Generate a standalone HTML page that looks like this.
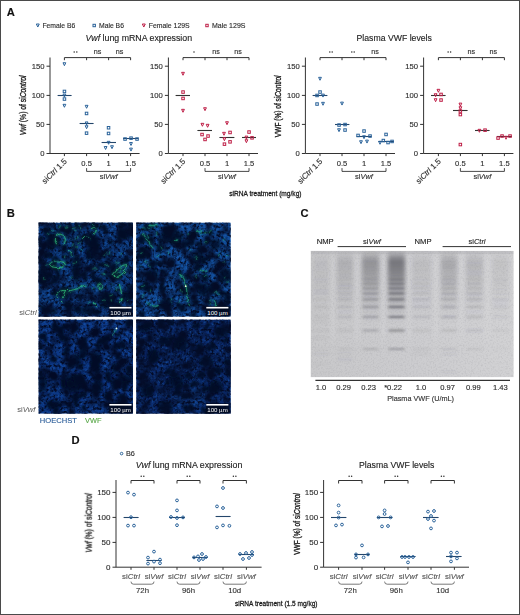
<!DOCTYPE html>
<html><head><meta charset="utf-8"><title>Figure</title>
<style>
html,body{margin:0;padding:0;background:#fff;}
svg{display:block;}
text{font-family:"Liberation Sans",sans-serif;}
</style></head><body>
<svg width="520" height="615" viewBox="0 0 520 615">
<rect x="0" y="0" width="520" height="615" fill="#fff"/>
<g opacity="0.999">
<text x="6.8" y="16.2" font-size="11.2" text-anchor="start" fill="#111" stroke="#111" stroke-width="0.13" font-weight="bold">A</text>
<path d="M36.35 24.00H39.25L37.80 27.04Z" fill="none" stroke="#2a6299" stroke-width="1" stroke-linejoin="miter"/>
<text x="42.4" y="27.7" font-size="6.8" text-anchor="start" fill="#2e2e2e" stroke="#2e2e2e" stroke-width="0.13" >Female B6</text>
<rect x="93.0" y="24.3" width="2.4" height="2.4" fill="none" stroke="#2a6299" stroke-width="1"/>
<text x="99.0" y="27.7" font-size="6.8" text-anchor="start" fill="#2e2e2e" stroke="#2e2e2e" stroke-width="0.13" >Male B6</text>
<path d="M142.35 24.00H145.25L143.80 27.04Z" fill="none" stroke="#be1e46" stroke-width="1" stroke-linejoin="miter"/>
<text x="148.7" y="27.7" font-size="6.9" text-anchor="start" fill="#2e2e2e" stroke="#2e2e2e" stroke-width="0.13" >Female 129S</text>
<rect x="205.8" y="24.3" width="2.4" height="2.4" fill="none" stroke="#be1e46" stroke-width="1"/>
<text x="212.0" y="27.7" font-size="7.0" text-anchor="start" fill="#2e2e2e" stroke="#2e2e2e" stroke-width="0.13" >Male 129S</text>
<text x="138.8" y="41.3" font-size="8.8" text-anchor="middle" fill="#222" stroke="#222" stroke-width="0.13" ><tspan font-style="italic">Vwf</tspan> lung mRNA expression</text>
<text x="394.2" y="41.3" font-size="8.7" text-anchor="middle" fill="#222" stroke="#222" stroke-width="0.13" >Plasma VWF levels</text>
<text transform="translate(25.8,105.4) rotate(-90) scale(0.72,1)" font-size="9.4" text-anchor="middle" fill="#1a1a1a" stroke="#1a1a1a" stroke-width="0.34"><tspan font-style="italic">Vwf</tspan> (%) of si<tspan font-style="italic">Control</tspan></text>
<text transform="translate(281,106.3) rotate(-90) scale(0.7,1)" font-size="9.4" text-anchor="middle" fill="#1a1a1a" stroke="#1a1a1a" stroke-width="0.34">VWF (%) of si<tspan font-style="italic">Control</tspan></text>
<text transform="translate(265.4,195.6) scale(0.826,1)" font-size="8" text-anchor="middle" fill="#1a1a1a" stroke="#1a1a1a" stroke-width="0.3">siRNA treatment (mg/kg)</text>
<path d="M50 57.5V153.5H139.6" stroke="#333333" stroke-width="1" fill="none"/>
<path d="M46.5 66.2L50.0 66.2" stroke="#333333" stroke-width="1" fill="none"/>
<text x="44.5" y="68.9" font-size="7.7" text-anchor="end" fill="#2e2e2e" stroke="#2e2e2e" stroke-width="0.13" >150</text>
<path d="M46.5 95.4L50.0 95.4" stroke="#333333" stroke-width="1" fill="none"/>
<text x="44.5" y="98.1" font-size="7.7" text-anchor="end" fill="#2e2e2e" stroke="#2e2e2e" stroke-width="0.13" >100</text>
<path d="M46.5 124.4L50.0 124.4" stroke="#333333" stroke-width="1" fill="none"/>
<text x="44.5" y="127.1" font-size="7.7" text-anchor="end" fill="#2e2e2e" stroke="#2e2e2e" stroke-width="0.13" >50</text>
<path d="M46.5 153.5L50.0 153.5" stroke="#333333" stroke-width="1" fill="none"/>
<text x="44.5" y="156.2" font-size="7.7" text-anchor="end" fill="#2e2e2e" stroke="#2e2e2e" stroke-width="0.13" >0</text>
<path d="M64.4 153.5L64.4 156.1" stroke="#333333" stroke-width="1" fill="none"/>
<path d="M86.6 153.5L86.6 156.1" stroke="#333333" stroke-width="1" fill="none"/>
<path d="M108.6 153.5L108.6 156.1" stroke="#333333" stroke-width="1" fill="none"/>
<path d="M130.6 153.5L130.6 156.1" stroke="#333333" stroke-width="1" fill="none"/>
<path d="M64.4 60.2V57.6H130.6V60.2M86.6 57.6V60.2M108.6 57.6V60.2" stroke="#333333" stroke-width="1" fill="none"/>
<circle cx="74.2" cy="52.1" r="0.75" fill="#2a2a2a"/>
<circle cx="76.8" cy="52.1" r="0.75" fill="#2a2a2a"/>
<text x="97.6" y="54.3" font-size="7.2" text-anchor="middle" fill="#2e2e2e" stroke="#2e2e2e" stroke-width="0.13" >ns</text>
<text x="119.6" y="54.3" font-size="7.2" text-anchor="middle" fill="#2e2e2e" stroke="#2e2e2e" stroke-width="0.13" >ns</text>
<path d="M57.6 95.5L71.6 95.5" stroke="#24466b" stroke-width="1.1" fill="none"/>
<path d="M63.00 62.74H65.80L64.40 65.68Z" fill="none" stroke="#2a6299" stroke-width="1" stroke-linejoin="miter"/>
<rect x="63.2" y="90.2" width="2.5" height="2.5" fill="none" stroke="#2a6299" stroke-width="1"/>
<path d="M63.00 94.14H65.80L64.40 97.08Z" fill="none" stroke="#2a6299" stroke-width="1" stroke-linejoin="miter"/>
<rect x="63.2" y="97.8" width="2.5" height="2.5" fill="none" stroke="#2a6299" stroke-width="1"/>
<path d="M63.00 104.34H65.80L64.40 107.28Z" fill="none" stroke="#2a6299" stroke-width="1" stroke-linejoin="miter"/>
<path d="M79.6 123.5L93.6 123.5" stroke="#24466b" stroke-width="1.1" fill="none"/>
<path d="M85.20 105.34H88.00L86.60 108.28Z" fill="none" stroke="#2a6299" stroke-width="1" stroke-linejoin="miter"/>
<rect x="85.3" y="112.2" width="2.5" height="2.5" fill="none" stroke="#2a6299" stroke-width="1"/>
<path d="M85.20 121.94H88.00L86.60 124.88Z" fill="none" stroke="#2a6299" stroke-width="1" stroke-linejoin="miter"/>
<path d="M85.20 125.74H88.00L86.60 128.68Z" fill="none" stroke="#2a6299" stroke-width="1" stroke-linejoin="miter"/>
<rect x="85.3" y="131.9" width="2.5" height="2.5" fill="none" stroke="#2a6299" stroke-width="1"/>
<path d="M101.6 142.5L116.0 142.5" stroke="#24466b" stroke-width="1.1" fill="none"/>
<rect x="107.3" y="126.5" width="2.5" height="2.5" fill="none" stroke="#2a6299" stroke-width="1"/>
<rect x="107.3" y="132.2" width="2.5" height="2.5" fill="none" stroke="#2a6299" stroke-width="1"/>
<path d="M107.20 141.34H110.00L108.60 144.28Z" fill="none" stroke="#2a6299" stroke-width="1" stroke-linejoin="miter"/>
<path d="M104.20 146.54H107.00L105.60 149.48Z" fill="none" stroke="#2a6299" stroke-width="1" stroke-linejoin="miter"/>
<path d="M110.60 145.74H113.40L112.00 148.68Z" fill="none" stroke="#2a6299" stroke-width="1" stroke-linejoin="miter"/>
<path d="M123.0 138.5L138.4 138.5" stroke="#24466b" stroke-width="1.1" fill="none"/>
<rect x="123.8" y="137.8" width="2.5" height="2.5" fill="none" stroke="#2a6299" stroke-width="1"/>
<rect x="129.8" y="136.9" width="2.5" height="2.5" fill="none" stroke="#2a6299" stroke-width="1"/>
<rect x="135.8" y="137.8" width="2.5" height="2.5" fill="none" stroke="#2a6299" stroke-width="1"/>
<path d="M129.60 142.54H132.40L131.00 145.48Z" fill="none" stroke="#2a6299" stroke-width="1" stroke-linejoin="miter"/>
<path d="M129.60 148.14H132.40L131.00 151.08Z" fill="none" stroke="#2a6299" stroke-width="1" stroke-linejoin="miter"/>
<text transform="translate(67.4,161.8) rotate(-45)" font-size="8" text-anchor="end" fill="#2e2e2e" stroke="#2e2e2e" stroke-width="0.13">si<tspan font-style="italic">Ctrl</tspan> 1.5</text>
<text x="86.6" y="166.1" font-size="7.6" text-anchor="middle" fill="#2e2e2e" stroke="#2e2e2e" stroke-width="0.13" >0.5</text>
<text x="108.6" y="166.1" font-size="7.6" text-anchor="middle" fill="#2e2e2e" stroke="#2e2e2e" stroke-width="0.13" >1</text>
<text x="130.6" y="166.1" font-size="7.6" text-anchor="middle" fill="#2e2e2e" stroke="#2e2e2e" stroke-width="0.13" >1.5</text>
<path d="M86.6 168.1V171.4H130.6V168.1" stroke="#333333" stroke-width="0.9" fill="none"/>
<text x="108.6" y="179.1" font-size="7.5" text-anchor="middle" fill="#2e2e2e" stroke="#2e2e2e" stroke-width="0.13" >si<tspan font-style="italic">Vwf</tspan></text>
<path d="M168.4 57.5V153.5H258" stroke="#333333" stroke-width="1" fill="none"/>
<path d="M164.9 66.2L168.4 66.2" stroke="#333333" stroke-width="1" fill="none"/>
<text x="162.9" y="68.9" font-size="7.7" text-anchor="end" fill="#2e2e2e" stroke="#2e2e2e" stroke-width="0.13" >150</text>
<path d="M164.9 95.4L168.4 95.4" stroke="#333333" stroke-width="1" fill="none"/>
<text x="162.9" y="98.1" font-size="7.7" text-anchor="end" fill="#2e2e2e" stroke="#2e2e2e" stroke-width="0.13" >100</text>
<path d="M164.9 124.4L168.4 124.4" stroke="#333333" stroke-width="1" fill="none"/>
<text x="162.9" y="127.1" font-size="7.7" text-anchor="end" fill="#2e2e2e" stroke="#2e2e2e" stroke-width="0.13" >50</text>
<path d="M164.9 153.5L168.4 153.5" stroke="#333333" stroke-width="1" fill="none"/>
<text x="162.9" y="156.2" font-size="7.7" text-anchor="end" fill="#2e2e2e" stroke="#2e2e2e" stroke-width="0.13" >0</text>
<path d="M183.0 153.5L183.0 156.1" stroke="#333333" stroke-width="1" fill="none"/>
<path d="M205.0 153.5L205.0 156.1" stroke="#333333" stroke-width="1" fill="none"/>
<path d="M227.0 153.5L227.0 156.1" stroke="#333333" stroke-width="1" fill="none"/>
<path d="M249.0 153.5L249.0 156.1" stroke="#333333" stroke-width="1" fill="none"/>
<path d="M183.0 60.2V57.6H249.0V60.2M205.0 57.6V60.2M227.0 57.6V60.2" stroke="#333333" stroke-width="1" fill="none"/>
<circle cx="194.0" cy="52.1" r="0.75" fill="#2a2a2a"/>
<text x="216.0" y="54.3" font-size="7.2" text-anchor="middle" fill="#2e2e2e" stroke="#2e2e2e" stroke-width="0.13" >ns</text>
<text x="238.0" y="54.3" font-size="7.2" text-anchor="middle" fill="#2e2e2e" stroke="#2e2e2e" stroke-width="0.13" >ns</text>
<path d="M175.6 95.5L190.0 95.5" stroke="#333" stroke-width="1.1" fill="none"/>
<path d="M181.60 72.34H184.40L183.00 75.28Z" fill="none" stroke="#be1e46" stroke-width="1" stroke-linejoin="miter"/>
<rect x="181.8" y="90.8" width="2.5" height="2.5" fill="none" stroke="#be1e46" stroke-width="1"/>
<rect x="181.8" y="97.2" width="2.5" height="2.5" fill="none" stroke="#be1e46" stroke-width="1"/>
<path d="M181.60 109.34H184.40L183.00 112.28Z" fill="none" stroke="#be1e46" stroke-width="1" stroke-linejoin="miter"/>
<path d="M197.4 130.5L212.0 130.5" stroke="#333" stroke-width="1.1" fill="none"/>
<path d="M203.60 107.74H206.40L205.00 110.68Z" fill="none" stroke="#be1e46" stroke-width="1" stroke-linejoin="miter"/>
<path d="M201.00 123.34H203.80L202.40 126.28Z" fill="none" stroke="#be1e46" stroke-width="1" stroke-linejoin="miter"/>
<path d="M206.20 124.34H209.00L207.60 127.28Z" fill="none" stroke="#be1e46" stroke-width="1" stroke-linejoin="miter"/>
<rect x="200.8" y="133.3" width="2.5" height="2.5" fill="none" stroke="#be1e46" stroke-width="1"/>
<rect x="206.8" y="134.8" width="2.5" height="2.5" fill="none" stroke="#be1e46" stroke-width="1"/>
<rect x="203.8" y="138.2" width="2.5" height="2.5" fill="none" stroke="#be1e46" stroke-width="1"/>
<path d="M219.4 137.5L234.4 137.5" stroke="#333" stroke-width="1.1" fill="none"/>
<path d="M225.60 121.74H228.40L227.00 124.68Z" fill="none" stroke="#be1e46" stroke-width="1" stroke-linejoin="miter"/>
<path d="M222.60 132.34H225.40L224.00 135.28Z" fill="none" stroke="#be1e46" stroke-width="1" stroke-linejoin="miter"/>
<rect x="228.8" y="131.2" width="2.5" height="2.5" fill="none" stroke="#be1e46" stroke-width="1"/>
<path d="M223.00 137.74H225.80L224.40 140.68Z" fill="none" stroke="#be1e46" stroke-width="1" stroke-linejoin="miter"/>
<rect x="228.8" y="140.6" width="2.5" height="2.5" fill="none" stroke="#be1e46" stroke-width="1"/>
<rect x="223.2" y="142.9" width="2.5" height="2.5" fill="none" stroke="#be1e46" stroke-width="1"/>
<path d="M242.0 137.5L256.0 137.5" stroke="#333" stroke-width="1.1" fill="none"/>
<rect x="247.8" y="130.8" width="2.5" height="2.5" fill="none" stroke="#be1e46" stroke-width="1"/>
<path d="M245.00 136.14H247.80L246.40 139.08Z" fill="none" stroke="#be1e46" stroke-width="1" stroke-linejoin="miter"/>
<rect x="250.8" y="136.6" width="2.5" height="2.5" fill="none" stroke="#be1e46" stroke-width="1"/>
<path d="M245.00 139.74H247.80L246.40 142.68Z" fill="none" stroke="#be1e46" stroke-width="1" stroke-linejoin="miter"/>
<text transform="translate(186.0,161.8) rotate(-45)" font-size="8" text-anchor="end" fill="#2e2e2e" stroke="#2e2e2e" stroke-width="0.13">si<tspan font-style="italic">Ctrl</tspan> 1.5</text>
<text x="205.0" y="166.1" font-size="7.6" text-anchor="middle" fill="#2e2e2e" stroke="#2e2e2e" stroke-width="0.13" >0.5</text>
<text x="227.0" y="166.1" font-size="7.6" text-anchor="middle" fill="#2e2e2e" stroke="#2e2e2e" stroke-width="0.13" >1</text>
<text x="249.0" y="166.1" font-size="7.6" text-anchor="middle" fill="#2e2e2e" stroke="#2e2e2e" stroke-width="0.13" >1.5</text>
<path d="M205.0 168.1V171.4H249.0V168.1" stroke="#333333" stroke-width="0.9" fill="none"/>
<text x="227.0" y="179.1" font-size="7.5" text-anchor="middle" fill="#2e2e2e" stroke="#2e2e2e" stroke-width="0.13" >si<tspan font-style="italic">Vwf</tspan></text>
<path d="M305.4 57.5V153.5H395" stroke="#333333" stroke-width="1" fill="none"/>
<path d="M301.9 66.2L305.4 66.2" stroke="#333333" stroke-width="1" fill="none"/>
<text x="299.9" y="68.9" font-size="7.7" text-anchor="end" fill="#2e2e2e" stroke="#2e2e2e" stroke-width="0.13" >150</text>
<path d="M301.9 95.4L305.4 95.4" stroke="#333333" stroke-width="1" fill="none"/>
<text x="299.9" y="98.1" font-size="7.7" text-anchor="end" fill="#2e2e2e" stroke="#2e2e2e" stroke-width="0.13" >100</text>
<path d="M301.9 124.4L305.4 124.4" stroke="#333333" stroke-width="1" fill="none"/>
<text x="299.9" y="127.1" font-size="7.7" text-anchor="end" fill="#2e2e2e" stroke="#2e2e2e" stroke-width="0.13" >50</text>
<path d="M301.9 153.5L305.4 153.5" stroke="#333333" stroke-width="1" fill="none"/>
<text x="299.9" y="156.2" font-size="7.7" text-anchor="end" fill="#2e2e2e" stroke="#2e2e2e" stroke-width="0.13" >0</text>
<path d="M320.0 153.5L320.0 156.1" stroke="#333333" stroke-width="1" fill="none"/>
<path d="M342.0 153.5L342.0 156.1" stroke="#333333" stroke-width="1" fill="none"/>
<path d="M364.0 153.5L364.0 156.1" stroke="#333333" stroke-width="1" fill="none"/>
<path d="M386.0 153.5L386.0 156.1" stroke="#333333" stroke-width="1" fill="none"/>
<path d="M320.0 60.2V57.6H386.0V60.2M342.0 57.6V60.2M364.0 57.6V60.2" stroke="#333333" stroke-width="1" fill="none"/>
<circle cx="329.8" cy="52.1" r="0.75" fill="#2a2a2a"/>
<circle cx="332.2" cy="52.1" r="0.75" fill="#2a2a2a"/>
<circle cx="351.8" cy="52.1" r="0.75" fill="#2a2a2a"/>
<circle cx="354.2" cy="52.1" r="0.75" fill="#2a2a2a"/>
<text x="375.0" y="54.3" font-size="7.2" text-anchor="middle" fill="#2e2e2e" stroke="#2e2e2e" stroke-width="0.13" >ns</text>
<path d="M312.6 95.5L327.4 95.5" stroke="#24466b" stroke-width="1.1" fill="none"/>
<path d="M318.60 77.34H321.40L320.00 80.28Z" fill="none" stroke="#2a6299" stroke-width="1" stroke-linejoin="miter"/>
<rect x="318.8" y="90.8" width="2.5" height="2.5" fill="none" stroke="#2a6299" stroke-width="1"/>
<rect x="315.8" y="94.2" width="2.5" height="2.5" fill="none" stroke="#2a6299" stroke-width="1"/>
<path d="M321.60 94.14H324.40L323.00 97.08Z" fill="none" stroke="#2a6299" stroke-width="1" stroke-linejoin="miter"/>
<rect x="315.8" y="102.8" width="2.5" height="2.5" fill="none" stroke="#2a6299" stroke-width="1"/>
<path d="M321.60 102.34H324.40L323.00 105.28Z" fill="none" stroke="#2a6299" stroke-width="1" stroke-linejoin="miter"/>
<path d="M335.0 124.5L349.4 124.5" stroke="#24466b" stroke-width="1.1" fill="none"/>
<path d="M340.60 102.14H343.40L342.00 105.08Z" fill="none" stroke="#2a6299" stroke-width="1" stroke-linejoin="miter"/>
<rect x="337.8" y="123.8" width="2.5" height="2.5" fill="none" stroke="#2a6299" stroke-width="1"/>
<rect x="343.8" y="123.3" width="2.5" height="2.5" fill="none" stroke="#2a6299" stroke-width="1"/>
<path d="M337.60 128.74H340.40L339.00 131.68Z" fill="none" stroke="#2a6299" stroke-width="1" stroke-linejoin="miter"/>
<rect x="343.8" y="128.8" width="2.5" height="2.5" fill="none" stroke="#2a6299" stroke-width="1"/>
<path d="M356.6 136.5L371.6 136.5" stroke="#24466b" stroke-width="1.1" fill="none"/>
<rect x="362.8" y="129.8" width="2.5" height="2.5" fill="none" stroke="#2a6299" stroke-width="1"/>
<rect x="356.8" y="134.2" width="2.5" height="2.5" fill="none" stroke="#2a6299" stroke-width="1"/>
<path d="M362.60 135.74H365.40L364.00 138.68Z" fill="none" stroke="#2a6299" stroke-width="1" stroke-linejoin="miter"/>
<rect x="368.8" y="134.8" width="2.5" height="2.5" fill="none" stroke="#2a6299" stroke-width="1"/>
<path d="M359.60 140.74H362.40L361.00 143.68Z" fill="none" stroke="#2a6299" stroke-width="1" stroke-linejoin="miter"/>
<path d="M365.60 140.14H368.40L367.00 143.08Z" fill="none" stroke="#2a6299" stroke-width="1" stroke-linejoin="miter"/>
<path d="M378.4 141.5L394.0 141.5" stroke="#24466b" stroke-width="1.1" fill="none"/>
<rect x="384.8" y="133.2" width="2.5" height="2.5" fill="none" stroke="#2a6299" stroke-width="1"/>
<path d="M378.60 141.34H381.40L380.00 144.28Z" fill="none" stroke="#2a6299" stroke-width="1" stroke-linejoin="miter"/>
<rect x="382.1" y="139.3" width="2.5" height="2.5" fill="none" stroke="#2a6299" stroke-width="1"/>
<rect x="386.8" y="141.3" width="2.5" height="2.5" fill="none" stroke="#2a6299" stroke-width="1"/>
<rect x="390.8" y="140.2" width="2.5" height="2.5" fill="none" stroke="#2a6299" stroke-width="1"/>
<text transform="translate(323.0,161.8) rotate(-45)" font-size="8" text-anchor="end" fill="#2e2e2e" stroke="#2e2e2e" stroke-width="0.13">si<tspan font-style="italic">Ctrl</tspan> 1.5</text>
<text x="342.0" y="166.1" font-size="7.6" text-anchor="middle" fill="#2e2e2e" stroke="#2e2e2e" stroke-width="0.13" >0.5</text>
<text x="364.0" y="166.1" font-size="7.6" text-anchor="middle" fill="#2e2e2e" stroke="#2e2e2e" stroke-width="0.13" >1</text>
<text x="386.0" y="166.1" font-size="7.6" text-anchor="middle" fill="#2e2e2e" stroke="#2e2e2e" stroke-width="0.13" >1.5</text>
<path d="M342.0 168.1V171.4H386.0V168.1" stroke="#333333" stroke-width="0.9" fill="none"/>
<text x="364.0" y="179.1" font-size="7.5" text-anchor="middle" fill="#2e2e2e" stroke="#2e2e2e" stroke-width="0.13" >si<tspan font-style="italic">Vwf</tspan></text>
<path d="M423.6 57.5V153.5H513.4" stroke="#333333" stroke-width="1" fill="none"/>
<path d="M420.1 66.2L423.6 66.2" stroke="#333333" stroke-width="1" fill="none"/>
<text x="418.1" y="68.9" font-size="7.7" text-anchor="end" fill="#2e2e2e" stroke="#2e2e2e" stroke-width="0.13" >150</text>
<path d="M420.1 95.4L423.6 95.4" stroke="#333333" stroke-width="1" fill="none"/>
<text x="418.1" y="98.1" font-size="7.7" text-anchor="end" fill="#2e2e2e" stroke="#2e2e2e" stroke-width="0.13" >100</text>
<path d="M420.1 124.4L423.6 124.4" stroke="#333333" stroke-width="1" fill="none"/>
<text x="418.1" y="127.1" font-size="7.7" text-anchor="end" fill="#2e2e2e" stroke="#2e2e2e" stroke-width="0.13" >50</text>
<path d="M420.1 153.5L423.6 153.5" stroke="#333333" stroke-width="1" fill="none"/>
<text x="418.1" y="156.2" font-size="7.7" text-anchor="end" fill="#2e2e2e" stroke="#2e2e2e" stroke-width="0.13" >0</text>
<path d="M438.4 153.5L438.4 156.1" stroke="#333333" stroke-width="1" fill="none"/>
<path d="M460.4 153.5L460.4 156.1" stroke="#333333" stroke-width="1" fill="none"/>
<path d="M482.4 153.5L482.4 156.1" stroke="#333333" stroke-width="1" fill="none"/>
<path d="M504.4 153.5L504.4 156.1" stroke="#333333" stroke-width="1" fill="none"/>
<path d="M438.4 60.2V57.6H504.4V60.2M460.4 57.6V60.2M482.4 57.6V60.2" stroke="#333333" stroke-width="1" fill="none"/>
<circle cx="448.1" cy="52.1" r="0.75" fill="#2a2a2a"/>
<circle cx="450.6" cy="52.1" r="0.75" fill="#2a2a2a"/>
<text x="471.4" y="54.3" font-size="7.2" text-anchor="middle" fill="#2e2e2e" stroke="#2e2e2e" stroke-width="0.13" >ns</text>
<text x="493.4" y="54.3" font-size="7.2" text-anchor="middle" fill="#2e2e2e" stroke="#2e2e2e" stroke-width="0.13" >ns</text>
<path d="M431.0 95.5L445.6 95.5" stroke="#333" stroke-width="1.1" fill="none"/>
<path d="M437.00 89.34H439.80L438.40 92.28Z" fill="none" stroke="#be1e46" stroke-width="1" stroke-linejoin="miter"/>
<path d="M434.20 93.74H437.00L435.60 96.68Z" fill="none" stroke="#be1e46" stroke-width="1" stroke-linejoin="miter"/>
<rect x="439.8" y="93.2" width="2.5" height="2.5" fill="none" stroke="#be1e46" stroke-width="1"/>
<path d="M434.20 98.74H437.00L435.60 101.68Z" fill="none" stroke="#be1e46" stroke-width="1" stroke-linejoin="miter"/>
<rect x="439.8" y="98.8" width="2.5" height="2.5" fill="none" stroke="#be1e46" stroke-width="1"/>
<path d="M453.0 110.5L467.6 110.5" stroke="#333" stroke-width="1.1" fill="none"/>
<path d="M459.00 103.14H461.80L460.40 106.08Z" fill="none" stroke="#be1e46" stroke-width="1" stroke-linejoin="miter"/>
<path d="M459.00 106.74H461.80L460.40 109.68Z" fill="none" stroke="#be1e46" stroke-width="1" stroke-linejoin="miter"/>
<rect x="459.1" y="109.8" width="2.5" height="2.5" fill="none" stroke="#be1e46" stroke-width="1"/>
<rect x="459.1" y="113.3" width="2.5" height="2.5" fill="none" stroke="#be1e46" stroke-width="1"/>
<rect x="459.1" y="143.3" width="2.5" height="2.5" fill="none" stroke="#be1e46" stroke-width="1"/>
<path d="M475.0 130.5L489.6 130.5" stroke="#333" stroke-width="1.1" fill="none"/>
<path d="M478.00 129.34H480.80L479.40 132.28Z" fill="none" stroke="#be1e46" stroke-width="1" stroke-linejoin="miter"/>
<rect x="483.8" y="128.9" width="2.5" height="2.5" fill="none" stroke="#be1e46" stroke-width="1"/>
<path d="M497.0 136.5L512.0 136.5" stroke="#333" stroke-width="1.1" fill="none"/>
<rect x="496.8" y="136.8" width="2.5" height="2.5" fill="none" stroke="#be1e46" stroke-width="1"/>
<rect x="500.8" y="134.8" width="2.5" height="2.5" fill="none" stroke="#be1e46" stroke-width="1"/>
<path d="M504.60 136.34H507.40L506.00 139.28Z" fill="none" stroke="#be1e46" stroke-width="1" stroke-linejoin="miter"/>
<rect x="508.8" y="134.8" width="2.5" height="2.5" fill="none" stroke="#be1e46" stroke-width="1"/>
<text transform="translate(441.4,161.8) rotate(-45)" font-size="8" text-anchor="end" fill="#2e2e2e" stroke="#2e2e2e" stroke-width="0.13">si<tspan font-style="italic">Ctrl</tspan> 1.5</text>
<text x="460.4" y="166.1" font-size="7.6" text-anchor="middle" fill="#2e2e2e" stroke="#2e2e2e" stroke-width="0.13" >0.5</text>
<text x="482.4" y="166.1" font-size="7.6" text-anchor="middle" fill="#2e2e2e" stroke="#2e2e2e" stroke-width="0.13" >1</text>
<text x="504.4" y="166.1" font-size="7.6" text-anchor="middle" fill="#2e2e2e" stroke="#2e2e2e" stroke-width="0.13" >1.5</text>
<path d="M460.4 168.1V171.4H504.4V168.1" stroke="#333333" stroke-width="0.9" fill="none"/>
<text x="482.4" y="179.1" font-size="7.5" text-anchor="middle" fill="#2e2e2e" stroke="#2e2e2e" stroke-width="0.13" >si<tspan font-style="italic">Vwf</tspan></text>
<text x="6.8" y="216.9" font-size="11.2" text-anchor="start" fill="#111" stroke="#111" stroke-width="0.13" font-weight="bold">B</text>
<defs>
<filter id="mot1" x="0" y="0" width="100%" height="100%" color-interpolation-filters="sRGB">
 <feTurbulence type="fractalNoise" baseFrequency="0.075" numOctaves="2" seed="7"/>
 <feColorMatrix type="matrix" values="0 0 0 0 0.012  0 0 0 0 0.045  0 0 0 0 0.15  3.4 0 0 0 -1.45"/>
</filter>
<filter id="mot2" x="0" y="0" width="100%" height="100%" color-interpolation-filters="sRGB">
 <feTurbulence type="fractalNoise" baseFrequency="0.08" numOctaves="2" seed="19"/>
 <feColorMatrix type="matrix" values="0 0 0 0 0.012  0 0 0 0 0.045  0 0 0 0 0.15  3.4 0 0 0 -1.45"/>
</filter>
<filter id="fine" x="0" y="0" width="100%" height="100%" color-interpolation-filters="sRGB">
 <feTurbulence type="fractalNoise" baseFrequency="0.33" numOctaves="2" seed="5"/>
 <feColorMatrix type="matrix" values="0 0 0 0 0.012  0 0 0 0 0.045  0 0 0 0 0.15  3.2 0 0 0 -1.3"/>
</filter>
<filter id="spk" x="0" y="0" width="100%" height="100%" color-interpolation-filters="sRGB">
 <feTurbulence type="fractalNoise" baseFrequency="0.5" numOctaves="1" seed="3"/>
 <feColorMatrix type="matrix" values="0 0 0 0 0.11  0 0 0 0 0.38  0 0 0 0 0.74  0 3.0 0 0 -1.6"/>
</filter>
<filter id="b25" x="-30%" y="-30%" width="160%" height="160%"><feGaussianBlur stdDeviation="2.2"/></filter>
<filter id="b12" x="-30%" y="-30%" width="160%" height="160%"><feGaussianBlur stdDeviation="0.8"/></filter>
<filter id="b05" x="-10%" y="-10%" width="120%" height="120%" color-interpolation-filters="sRGB"><feTurbulence type="fractalNoise" baseFrequency="0.22" numOctaves="2" seed="11" result="t"/><feDisplacementMap in="SourceGraphic" in2="t" scale="3.2" xChannelSelector="R" yChannelSelector="G" result="d"/><feGaussianBlur in="d" stdDeviation="0.55" result="g1"/><feGaussianBlur in="d" stdDeviation="1.6" result="g2"/><feMerge><feMergeNode in="g2"/><feMergeNode in="g1"/></feMerge></filter>
<filter id="b6" x="-30%" y="-30%" width="160%" height="160%"><feGaussianBlur stdDeviation="7"/></filter>
</defs>
<svg x="38.5" y="222.5" width="94.5" height="94.2" viewBox="0 0 94.5 94.2" overflow="hidden">
<rect width="94.5" height="94.2" fill="#0c3c80"/>
<rect width="94.5" height="94.2" filter="url(#fine)"/>
<rect width="94.5" height="94.2" filter="url(#spk)"/>
<g filter="url(#b25)" fill="#030c28" opacity="0.9">
<ellipse cx="13" cy="19" rx="7" ry="9"/>
<ellipse cx="55" cy="26" rx="7" ry="12"/>
<ellipse cx="38" cy="46" rx="5" ry="15"/>
<ellipse cx="5" cy="52" rx="6" ry="10"/>
<ellipse cx="69" cy="78" rx="9" ry="9"/>
<ellipse cx="88" cy="11" rx="8" ry="6"/>
<ellipse cx="92" cy="69" rx="5" ry="9"/>
<ellipse cx="25" cy="72" rx="6" ry="5"/>
<ellipse cx="75" cy="45" rx="5" ry="6"/>
<ellipse cx="30" cy="8" rx="6" ry="4"/>
<ellipse cx="50" cy="88" rx="8" ry="5"/>
<ellipse cx="12" cy="88" rx="8" ry="4"/>
</g>
<g filter="url(#b12)" fill="#030c28" opacity="0.92">
<ellipse cx="14.5" cy="42.9" rx="4.6" ry="3.6" transform="rotate(132 14.5 42.9)"/>
<ellipse cx="41.1" cy="74.8" rx="3.8" ry="2.0" transform="rotate(82 41.1 74.8)"/>
<ellipse cx="5.4" cy="87.0" rx="5.2" ry="2.7" transform="rotate(56 5.4 87.0)"/>
<ellipse cx="72.0" cy="19.8" rx="2.6" ry="2.3" transform="rotate(62 72.0 19.8)"/>
<ellipse cx="58.9" cy="89.8" rx="2.7" ry="4.3" transform="rotate(100 58.9 89.8)"/>
<ellipse cx="84.4" cy="76.4" rx="2.5" ry="3.5" transform="rotate(22 84.4 76.4)"/>
<ellipse cx="1.5" cy="37.5" rx="4.6" ry="3.3" transform="rotate(35 1.5 37.5)"/>
<ellipse cx="78.8" cy="85.3" rx="2.8" ry="3.0" transform="rotate(115 78.8 85.3)"/>
<ellipse cx="84.5" cy="12.7" rx="3.9" ry="4.3" transform="rotate(110 84.5 12.7)"/>
<ellipse cx="67.4" cy="72.5" rx="3.7" ry="2.6" transform="rotate(106 67.4 72.5)"/>
<ellipse cx="49.9" cy="32.6" rx="4.9" ry="2.7" transform="rotate(87 49.9 32.6)"/>
<ellipse cx="71.4" cy="76.0" rx="5.0" ry="3.5" transform="rotate(45 71.4 76.0)"/>
<ellipse cx="79.4" cy="84.8" rx="4.4" ry="3.8" transform="rotate(92 79.4 84.8)"/>
<ellipse cx="46.6" cy="54.7" rx="2.5" ry="3.6" transform="rotate(155 46.6 54.7)"/>
<ellipse cx="16.2" cy="70.5" rx="4.4" ry="2.1" transform="rotate(9 16.2 70.5)"/>
<ellipse cx="56.1" cy="21.2" rx="3.1" ry="3.4" transform="rotate(117 56.1 21.2)"/>
<ellipse cx="70.3" cy="53.4" rx="3.1" ry="1.8" transform="rotate(21 70.3 53.4)"/>
<ellipse cx="18.8" cy="49.4" rx="4.4" ry="2.3" transform="rotate(70 18.8 49.4)"/>
<ellipse cx="87.6" cy="37.9" rx="4.4" ry="3.4" transform="rotate(119 87.6 37.9)"/>
<ellipse cx="45.1" cy="51.3" rx="4.4" ry="2.2" transform="rotate(144 45.1 51.3)"/>
<ellipse cx="81.7" cy="5.3" rx="2.7" ry="2.4" transform="rotate(17 81.7 5.3)"/>
<ellipse cx="13.9" cy="60.1" rx="2.4" ry="2.0" transform="rotate(170 13.9 60.1)"/>
<ellipse cx="38.2" cy="50.8" rx="3.6" ry="2.7" transform="rotate(82 38.2 50.8)"/>
<ellipse cx="19.0" cy="54.5" rx="2.9" ry="2.2" transform="rotate(38 19.0 54.5)"/>
<ellipse cx="39.2" cy="86.8" rx="4.0" ry="4.3" transform="rotate(72 39.2 86.8)"/>
<ellipse cx="25.1" cy="66.5" rx="2.6" ry="4.4" transform="rotate(70 25.1 66.5)"/>
<ellipse cx="26.1" cy="26.0" rx="3.0" ry="4.2" transform="rotate(179 26.1 26.0)"/>
<ellipse cx="52.7" cy="22.4" rx="2.0" ry="2.0" transform="rotate(54 52.7 22.4)"/>
<ellipse cx="60.5" cy="58.8" rx="4.9" ry="3.9" transform="rotate(63 60.5 58.8)"/>
<ellipse cx="63.3" cy="42.0" rx="4.5" ry="2.3" transform="rotate(176 63.3 42.0)"/>
<ellipse cx="3.1" cy="57.9" rx="3.2" ry="3.9" transform="rotate(26 3.1 57.9)"/>
<ellipse cx="83.4" cy="1.3" rx="4.5" ry="3.6" transform="rotate(91 83.4 1.3)"/>
<ellipse cx="17.1" cy="36.2" rx="3.5" ry="2.4" transform="rotate(29 17.1 36.2)"/>
<ellipse cx="78.9" cy="51.7" rx="2.9" ry="3.4" transform="rotate(114 78.9 51.7)"/>
<ellipse cx="13.6" cy="54.9" rx="4.0" ry="2.1" transform="rotate(54 13.6 54.9)"/>
<ellipse cx="80.8" cy="54.4" rx="2.8" ry="2.8" transform="rotate(83 80.8 54.4)"/>
<ellipse cx="66.5" cy="80.4" rx="2.3" ry="1.9" transform="rotate(79 66.5 80.4)"/>
<ellipse cx="2.8" cy="15.2" rx="2.4" ry="2.0" transform="rotate(113 2.8 15.2)"/>
<ellipse cx="9.8" cy="53.2" rx="5.3" ry="2.2" transform="rotate(137 9.8 53.2)"/>
<ellipse cx="55.0" cy="16.7" rx="5.2" ry="3.7" transform="rotate(68 55.0 16.7)"/>
<ellipse cx="83.2" cy="10.6" rx="4.8" ry="4.0" transform="rotate(21 83.2 10.6)"/>
<ellipse cx="85.7" cy="73.3" rx="5.1" ry="2.5" transform="rotate(133 85.7 73.3)"/>
<ellipse cx="73.1" cy="33.1" rx="2.1" ry="1.8" transform="rotate(91 73.1 33.1)"/>
<ellipse cx="51.7" cy="12.5" rx="4.1" ry="1.9" transform="rotate(86 51.7 12.5)"/>
<ellipse cx="48.2" cy="19.8" rx="2.2" ry="4.1" transform="rotate(153 48.2 19.8)"/>
<ellipse cx="55.4" cy="3.7" rx="3.8" ry="4.3" transform="rotate(138 55.4 3.7)"/>
<ellipse cx="64.7" cy="4.6" rx="4.0" ry="2.4" transform="rotate(178 64.7 4.6)"/>
<ellipse cx="2.0" cy="21.5" rx="5.0" ry="2.1" transform="rotate(54 2.0 21.5)"/>
<ellipse cx="29.3" cy="82.3" rx="4.4" ry="4.2" transform="rotate(35 29.3 82.3)"/>
<ellipse cx="9.2" cy="32.6" rx="4.6" ry="3.4" transform="rotate(168 9.2 32.6)"/>
<ellipse cx="66.9" cy="8.6" rx="3.1" ry="2.3" transform="rotate(48 66.9 8.6)"/>
<ellipse cx="62.7" cy="41.9" rx="4.6" ry="1.8" transform="rotate(164 62.7 41.9)"/>
<ellipse cx="16.0" cy="69.5" rx="4.9" ry="1.9" transform="rotate(98 16.0 69.5)"/>
<ellipse cx="91.2" cy="1.7" rx="3.7" ry="2.9" transform="rotate(69 91.2 1.7)"/>
<ellipse cx="19.0" cy="17.6" rx="2.9" ry="2.4" transform="rotate(53 19.0 17.6)"/>
<ellipse cx="84.4" cy="88.5" rx="2.9" ry="1.9" transform="rotate(48 84.4 88.5)"/>
<ellipse cx="80.2" cy="17.2" rx="4.3" ry="2.0" transform="rotate(63 80.2 17.2)"/>
<ellipse cx="16.7" cy="57.8" rx="3.3" ry="3.8" transform="rotate(93 16.7 57.8)"/>
<ellipse cx="38.3" cy="3.0" rx="4.9" ry="1.9" transform="rotate(90 38.3 3.0)"/>
<ellipse cx="92.4" cy="73.9" rx="3.2" ry="4.2" transform="rotate(46 92.4 73.9)"/>
<ellipse cx="54.8" cy="54.0" rx="4.5" ry="2.6" transform="rotate(72 54.8 54.0)"/>
<ellipse cx="31.0" cy="85.7" rx="4.5" ry="2.7" transform="rotate(139 31.0 85.7)"/>
<ellipse cx="58.1" cy="23.8" rx="3.7" ry="2.1" transform="rotate(38 58.1 23.8)"/>
<ellipse cx="8.1" cy="8.4" rx="4.1" ry="4.0" transform="rotate(150 8.1 8.4)"/>
</g>
<rect width="94.5" height="94.2" filter="url(#mot1)"/>
<g filter="url(#b05)" fill="none" stroke="#25b07c" stroke-width="0.9" stroke-linecap="round" opacity="0.5">
<path d="M74.2 78.1q-0.4 -0.8 -1.6 -0.9M70.4 32.2q0.8 -0.6 0.6 -1.9M53.7 65.5q0.8 0.7 2.0 0.2M38.0 25.6q0.7 0.1 1.2 -0.7M42.6 26.7q0.1 0.7 1.0 1.1M82.5 31.7q1.0 0.1 1.8 -1.0M32.4 16.6q0.3 0.5 1.1 0.6M71.4 73.4q1.4 0.3 2.7 -1.1M81.9 50.1q-1.6 -0.8 -3.4 0.5M52.0 16.1q-0.8 -1.4 -3.0 -1.5M70.2 44.2q0.5 -0.8 -0.2 -1.9M63.3 50.9q1.0 1.4 3.2 1.3M78.3 64.9q-1.0 1.2 -0.3 3.1M34.4 6.5q1.4 -0.0 2.4 -1.7M25.4 39.2q-0.3 1.6 1.4 3.0M31.8 69.8q-1.3 -0.1 -2.3 1.3M26.4 4.9q0.6 0.6 1.6 0.3M37.6 7.9q-0.8 -0.4 -1.8 0.3M26.4 33.1q-0.8 0.8 -0.5 2.2M54.4 46.3q0.6 0.5 1.5 0.0M9.3 42.5q-0.9 -0.5 -2.0 0.3M39.6 13.8q-1.3 0.3 -1.8 1.9M77.9 40.3q0.2 -0.6 -0.5 -1.2M69.2 43.1q-1.0 -1.2 -3.0 -0.9M67.7 30.3q-1.7 0.2 -2.6 2.3M66.9 77.7q-1.3 -0.8 -3.0 0.2M58.4 46.9q-0.3 -1.4 -2.0 -2.0M33.5 23.9q1.3 -0.7 1.4 -2.6M34.6 40.9q1.5 0.5 2.9 -0.9M88.9 75.3q-0.5 1.1 0.5 2.4M80.9 77.0q0.8 0.4 1.9 -0.2M32.7 54.4q-0.5 0.6 -0.1 1.4M48.0 62.8q-1.0 -0.6 -2.5 0.1M42.1 6.0q0.3 -1.7 -1.4 -3.1M81.3 39.4q-1.6 0.3 -2.3 2.3M20.4 5.4q1.0 -0.2 1.5 -1.4M32.4 31.1q-0.2 1.7 1.7 3.1M51.6 79.5q-1.3 0.1 -2.1 1.6M55.4 3.2q0.2 -0.7 -0.4 -1.4M81.9 49.0q1.0 -1.2 0.2 -3.1M15.8 9.4q-0.9 -1.3 -2.9 -1.2M5.1 54.8q-0.5 1.1 0.3 2.3M39.5 21.1q1.3 0.1 2.2 -1.3M27.3 6.2q1.4 -0.9 1.3 -3.0M10.3 12.0q-0.1 -0.9 -1.2 -1.3M73.8 62.4q-0.2 -0.6 -1.0 -0.8"/></g>
<g filter="url(#b05)" fill="none" stroke="#2fc47c" stroke-width="0.95" stroke-linecap="round" opacity="0.8" stroke-dasharray="2.5 0.7 1.2 0.5 3.4 0.8"><path d="M18 13q4 -3 8 1q2 4 -1 8M17 16q-1 5 3 7"/><path d="M53 6q3 -2 5 1q0 3 -3 4"/><path d="M11 42q2 -4 9 -3.500q7 1 7 4q-1 3 -8 2.500q-7 0 -8 -3z"/><path d="M74 53l5 -6l5 -4l4 -1l-1 6l-4 4l-5 3z"/><circle cx="62" cy="64" r="2.600"/><path d="M18 70l6 -2l8 0l8 -2l5 -3M18 70l1 5l5 5M27 68l-3 6"/><path d="M81 62l1 4l1 5M84 76l-2 4M44 16l3 -3M30 28l3 2M55 80l2 3"/></g>
<rect x="70.4" y="83.80000000000001" width="23.6" height="10.4" fill="#030a1e" opacity="0.8"/>
<rect x="70.9" y="84.4" width="22.1" height="1.6" fill="#fff"/>
<text x="82.10000000000001" y="92.30000000000001" font-size="6.1" text-anchor="middle" fill="#fff">100 µm</text>
</svg>
<svg x="136.2" y="222.5" width="94.6" height="94.2" viewBox="0 0 94.6 94.2" overflow="hidden">
<rect width="94.6" height="94.2" fill="#114c98"/>
<rect width="94.6" height="94.2" filter="url(#fine)"/>
<rect width="94.6" height="94.2" filter="url(#spk)"/>
<g filter="url(#b25)" fill="#030c28" opacity="0.9">
<ellipse cx="36" cy="14" rx="12" ry="7"/>
<ellipse cx="62" cy="36" rx="7" ry="7"/>
<ellipse cx="79" cy="22" rx="6" ry="6"/>
<ellipse cx="17" cy="53" rx="6" ry="8"/>
<ellipse cx="30" cy="82" rx="7" ry="7"/>
<ellipse cx="67" cy="67" rx="7" ry="7"/>
<ellipse cx="89" cy="53" rx="7" ry="8"/>
<ellipse cx="50" cy="55" rx="4" ry="4"/>
<ellipse cx="8" cy="30" rx="5" ry="6"/>
<ellipse cx="85" cy="85" rx="6" ry="4"/>
</g>
<g filter="url(#b12)" fill="#030c28" opacity="0.92">
<ellipse cx="54.8" cy="19.0" rx="5.3" ry="4.2" transform="rotate(84 54.8 19.0)"/>
<ellipse cx="62.4" cy="20.8" rx="2.8" ry="2.6" transform="rotate(125 62.4 20.8)"/>
<ellipse cx="20.7" cy="90.5" rx="2.2" ry="2.3" transform="rotate(16 20.7 90.5)"/>
<ellipse cx="72.3" cy="34.8" rx="3.6" ry="2.6" transform="rotate(115 72.3 34.8)"/>
<ellipse cx="38.4" cy="20.2" rx="3.5" ry="2.6" transform="rotate(20 38.4 20.2)"/>
<ellipse cx="77.2" cy="63.7" rx="4.3" ry="4.1" transform="rotate(71 77.2 63.7)"/>
<ellipse cx="36.1" cy="40.0" rx="3.4" ry="3.5" transform="rotate(1 36.1 40.0)"/>
<ellipse cx="44.0" cy="50.3" rx="3.2" ry="1.9" transform="rotate(127 44.0 50.3)"/>
<ellipse cx="1.9" cy="53.0" rx="2.5" ry="1.9" transform="rotate(33 1.9 53.0)"/>
<ellipse cx="7.1" cy="14.9" rx="4.3" ry="3.7" transform="rotate(65 7.1 14.9)"/>
<ellipse cx="61.4" cy="44.8" rx="3.7" ry="4.1" transform="rotate(56 61.4 44.8)"/>
<ellipse cx="81.6" cy="64.7" rx="4.3" ry="1.8" transform="rotate(15 81.6 64.7)"/>
<ellipse cx="4.0" cy="32.9" rx="5.2" ry="4.1" transform="rotate(151 4.0 32.9)"/>
<ellipse cx="12.0" cy="66.1" rx="4.6" ry="3.9" transform="rotate(143 12.0 66.1)"/>
<ellipse cx="14.0" cy="17.5" rx="4.7" ry="3.7" transform="rotate(161 14.0 17.5)"/>
<ellipse cx="42.3" cy="83.0" rx="2.5" ry="4.3" transform="rotate(159 42.3 83.0)"/>
<ellipse cx="32.3" cy="7.2" rx="3.9" ry="3.6" transform="rotate(63 32.3 7.2)"/>
<ellipse cx="6.3" cy="26.7" rx="4.8" ry="2.0" transform="rotate(169 6.3 26.7)"/>
<ellipse cx="24.2" cy="19.8" rx="2.4" ry="4.4" transform="rotate(162 24.2 19.8)"/>
<ellipse cx="30.6" cy="9.8" rx="4.2" ry="4.1" transform="rotate(2 30.6 9.8)"/>
<ellipse cx="59.6" cy="80.0" rx="3.6" ry="3.3" transform="rotate(145 59.6 80.0)"/>
<ellipse cx="23.1" cy="26.2" rx="4.2" ry="3.2" transform="rotate(96 23.1 26.2)"/>
<ellipse cx="32.0" cy="87.4" rx="3.0" ry="3.6" transform="rotate(161 32.0 87.4)"/>
<ellipse cx="38.1" cy="6.0" rx="2.7" ry="2.0" transform="rotate(27 38.1 6.0)"/>
<ellipse cx="12.2" cy="32.6" rx="3.3" ry="3.0" transform="rotate(120 12.2 32.6)"/>
<ellipse cx="63.7" cy="64.4" rx="3.2" ry="3.5" transform="rotate(99 63.7 64.4)"/>
<ellipse cx="12.8" cy="51.3" rx="3.1" ry="3.6" transform="rotate(132 12.8 51.3)"/>
<ellipse cx="23.3" cy="41.1" rx="3.5" ry="2.6" transform="rotate(7 23.3 41.1)"/>
<ellipse cx="5.6" cy="92.5" rx="4.5" ry="2.9" transform="rotate(120 5.6 92.5)"/>
<ellipse cx="25.9" cy="66.5" rx="5.2" ry="3.8" transform="rotate(84 25.9 66.5)"/>
<ellipse cx="92.1" cy="86.0" rx="2.2" ry="2.9" transform="rotate(81 92.1 86.0)"/>
<ellipse cx="26.4" cy="57.8" rx="2.5" ry="3.7" transform="rotate(154 26.4 57.8)"/>
<ellipse cx="6.7" cy="64.8" rx="2.9" ry="3.5" transform="rotate(124 6.7 64.8)"/>
<ellipse cx="91.4" cy="74.6" rx="3.2" ry="3.7" transform="rotate(26 91.4 74.6)"/>
<ellipse cx="67.1" cy="39.5" rx="2.9" ry="2.4" transform="rotate(39 67.1 39.5)"/>
<ellipse cx="74.7" cy="9.9" rx="2.8" ry="2.3" transform="rotate(28 74.7 9.9)"/>
<ellipse cx="68.6" cy="55.2" rx="4.3" ry="4.1" transform="rotate(81 68.6 55.2)"/>
<ellipse cx="4.5" cy="18.5" rx="3.8" ry="3.7" transform="rotate(165 4.5 18.5)"/>
<ellipse cx="48.3" cy="21.9" rx="4.0" ry="4.2" transform="rotate(60 48.3 21.9)"/>
<ellipse cx="87.2" cy="84.3" rx="4.0" ry="3.1" transform="rotate(23 87.2 84.3)"/>
<ellipse cx="11.2" cy="4.8" rx="4.1" ry="3.7" transform="rotate(179 11.2 4.8)"/>
<ellipse cx="56.8" cy="92.6" rx="3.4" ry="2.1" transform="rotate(11 56.8 92.6)"/>
<ellipse cx="27.7" cy="49.9" rx="5.4" ry="2.6" transform="rotate(42 27.7 49.9)"/>
<ellipse cx="68.0" cy="36.8" rx="3.9" ry="2.2" transform="rotate(154 68.0 36.8)"/>
<ellipse cx="86.1" cy="70.6" rx="5.2" ry="2.7" transform="rotate(6 86.1 70.6)"/>
<ellipse cx="29.2" cy="83.8" rx="3.6" ry="2.3" transform="rotate(27 29.2 83.8)"/>
<ellipse cx="16.2" cy="41.5" rx="5.1" ry="4.1" transform="rotate(136 16.2 41.5)"/>
<ellipse cx="71.0" cy="18.6" rx="4.6" ry="2.4" transform="rotate(95 71.0 18.6)"/>
<ellipse cx="4.1" cy="83.3" rx="2.4" ry="3.3" transform="rotate(119 4.1 83.3)"/>
<ellipse cx="60.6" cy="63.9" rx="3.3" ry="3.9" transform="rotate(169 60.6 63.9)"/>
<ellipse cx="58.1" cy="91.3" rx="4.9" ry="1.9" transform="rotate(121 58.1 91.3)"/>
<ellipse cx="9.5" cy="62.0" rx="3.3" ry="4.0" transform="rotate(8 9.5 62.0)"/>
<ellipse cx="88.6" cy="5.0" rx="2.2" ry="1.8" transform="rotate(23 88.6 5.0)"/>
<ellipse cx="92.3" cy="78.0" rx="5.1" ry="2.3" transform="rotate(124 92.3 78.0)"/>
<ellipse cx="74.6" cy="68.0" rx="2.9" ry="4.3" transform="rotate(131 74.6 68.0)"/>
<ellipse cx="64.4" cy="27.2" rx="3.4" ry="3.8" transform="rotate(93 64.4 27.2)"/>
<ellipse cx="46.2" cy="85.8" rx="3.4" ry="4.0" transform="rotate(8 46.2 85.8)"/>
<ellipse cx="50.1" cy="66.7" rx="2.0" ry="3.6" transform="rotate(51 50.1 66.7)"/>
</g>
<rect width="94.6" height="94.2" filter="url(#mot2)"/>
<g filter="url(#b05)" fill="none" stroke="#25b07c" stroke-width="0.9" stroke-linecap="round" opacity="0.5">
<path d="M59.9 52.4q-0.8 1.3 0.2 3.1M32.5 31.2q0.4 -0.9 -0.4 -2.0M87.8 38.8q-0.6 0.1 -0.9 0.9M70.6 19.1q-1.3 -0.5 -2.7 0.8M44.3 78.3q-1.0 0.1 -1.6 1.3M11.4 4.3q0.3 1.3 1.9 1.7M12.5 42.0q0.0 1.6 1.8 2.5M5.3 64.2q1.7 0.3 3.2 -1.4M44.2 67.0q-0.2 1.7 1.7 3.1M90.5 59.7q1.2 0.5 2.6 -0.5M90.0 32.9q0.4 0.8 1.5 0.8M80.4 69.5q-1.4 0.2 -2.2 1.9M83.6 30.0q-1.2 1.4 -0.4 3.5M35.4 76.2q-1.0 1.4 -0.1 3.5M5.4 30.4q-0.6 -0.1 -1.2 0.5M75.6 77.4q-1.4 -0.1 -2.4 1.5M25.9 26.5q0.1 -1.2 -1.2 -2.1M11.1 81.4q1.2 0.7 2.7 -0.2M85.7 28.9q-1.3 -0.2 -2.5 1.2M8.8 5.6q-0.6 -0.5 -1.7 -0.1M70.0 52.8q-1.2 -0.0 -2.0 1.3M64.6 12.3q1.1 -1.2 0.5 -3.2M20.5 12.5q0.8 -1.1 0.0 -2.8M74.2 82.1q0.6 -1.6 -0.7 -3.3M20.7 34.2q1.4 -0.2 2.2 -1.9M60.2 33.7q-0.8 1.4 0.3 3.3M6.3 74.0q1.6 -0.7 1.8 -3.0M5.3 45.3q0.5 -1.0 -0.4 -2.1M88.2 55.7q0.6 -0.3 0.7 -1.1M88.1 16.2q-0.9 0.6 -0.8 2.0M70.8 9.6q-1.6 -0.3 -3.0 1.2M54.8 27.8q-0.4 -0.7 -1.5 -0.6M9.6 38.0q-0.7 1.1 0.1 2.5M12.3 15.8q0.4 -1.5 -1.0 -2.9M14.4 68.7q0.9 -1.1 0.2 -2.9M52.1 11.0q-0.5 0.4 -0.3 1.2M80.2 70.5q0.8 1.4 3.0 1.4M23.0 79.3q0.2 -1.0 -0.7 -1.9M47.3 53.0q-1.1 -0.7 -2.5 0.1M75.1 7.7q-1.7 0.5 -2.2 2.7"/></g>
<g filter="url(#b05)" fill="none" stroke="#25b07c" stroke-width="1.05" stroke-linecap="round" opacity="0.7" stroke-dasharray="2.5 0.7 1.2 0.5 3.4 0.8"><path d="M13 3h9" stroke-width="1.400"/><path d="M7 11l4 7l6 8"/><path d="M44 52l3 5l3 7l1 9l2 10"/><path d="M38 17q2 2 4 0M61 8q2 3 4 0M64 49q3 -2 6 0M15 82q3 3 7 1M78 78q2 3 1 6"/></g>
<circle cx="49.500" cy="63.700" r="0.900" fill="#eaffd0"/>
<rect x="69.6" y="83.80000000000001" width="23.6" height="10.4" fill="#030a1e" opacity="0.8"/>
<rect x="70.1" y="84.4" width="22.1" height="1.6" fill="#fff"/>
<text x="81.3" y="92.30000000000001" font-size="6.1" text-anchor="middle" fill="#fff">100 µm</text>
</svg>
<svg x="38.5" y="319.6" width="94.5" height="94.1" viewBox="0 0 94.5 94.1" overflow="hidden">
<rect width="94.5" height="94.1" fill="#0e3e92"/>
<rect width="94.5" height="94.1" filter="url(#fine)"/>
<rect width="94.5" height="94.1" filter="url(#spk)"/>
<g filter="url(#b25)" fill="#030c28" opacity="0.9">
<ellipse cx="38" cy="41" rx="5" ry="7"/>
<ellipse cx="35" cy="64" rx="13" ry="9"/>
<ellipse cx="57" cy="40" rx="6" ry="8"/>
<ellipse cx="65" cy="21" rx="5" ry="5"/>
<ellipse cx="77" cy="49" rx="4" ry="7"/>
<ellipse cx="59" cy="67" rx="6" ry="7"/>
<ellipse cx="4" cy="64" rx="5" ry="9"/>
<ellipse cx="27" cy="20" rx="4" ry="4"/>
<ellipse cx="87" cy="60" rx="9" ry="5"/>
<ellipse cx="15" cy="85" rx="8" ry="5"/>
<ellipse cx="80" cy="85" rx="8" ry="4"/>
</g>
<g filter="url(#b12)" fill="#030c28" opacity="0.92">
<ellipse cx="14.7" cy="57.7" rx="2.6" ry="3.7" transform="rotate(109 14.7 57.7)"/>
<ellipse cx="36.6" cy="57.9" rx="3.9" ry="1.9" transform="rotate(95 36.6 57.9)"/>
<ellipse cx="58.3" cy="48.9" rx="5.0" ry="3.7" transform="rotate(68 58.3 48.9)"/>
<ellipse cx="22.0" cy="12.8" rx="4.8" ry="3.6" transform="rotate(110 22.0 12.8)"/>
<ellipse cx="41.9" cy="47.1" rx="2.8" ry="3.2" transform="rotate(26 41.9 47.1)"/>
<ellipse cx="58.5" cy="59.0" rx="4.3" ry="2.4" transform="rotate(17 58.5 59.0)"/>
<ellipse cx="31.8" cy="64.3" rx="3.7" ry="3.7" transform="rotate(78 31.8 64.3)"/>
<ellipse cx="37.9" cy="84.6" rx="2.6" ry="2.3" transform="rotate(106 37.9 84.6)"/>
<ellipse cx="59.4" cy="40.9" rx="3.9" ry="2.9" transform="rotate(120 59.4 40.9)"/>
<ellipse cx="83.2" cy="77.0" rx="4.2" ry="3.0" transform="rotate(171 83.2 77.0)"/>
<ellipse cx="42.4" cy="58.6" rx="5.0" ry="3.6" transform="rotate(70 42.4 58.6)"/>
<ellipse cx="69.7" cy="56.3" rx="5.1" ry="3.4" transform="rotate(96 69.7 56.3)"/>
<ellipse cx="91.1" cy="49.6" rx="3.4" ry="4.2" transform="rotate(170 91.1 49.6)"/>
<ellipse cx="16.9" cy="7.7" rx="4.9" ry="4.1" transform="rotate(69 16.9 7.7)"/>
<ellipse cx="24.6" cy="64.0" rx="5.2" ry="2.4" transform="rotate(81 24.6 64.0)"/>
<ellipse cx="62.3" cy="21.3" rx="3.4" ry="2.2" transform="rotate(86 62.3 21.3)"/>
<ellipse cx="22.3" cy="8.4" rx="3.3" ry="2.2" transform="rotate(21 22.3 8.4)"/>
<ellipse cx="14.9" cy="39.5" rx="3.1" ry="3.7" transform="rotate(75 14.9 39.5)"/>
<ellipse cx="23.5" cy="18.3" rx="3.0" ry="3.7" transform="rotate(36 23.5 18.3)"/>
<ellipse cx="44.0" cy="75.3" rx="4.8" ry="3.0" transform="rotate(152 44.0 75.3)"/>
<ellipse cx="60.4" cy="21.9" rx="2.3" ry="2.2" transform="rotate(142 60.4 21.9)"/>
<ellipse cx="37.0" cy="78.1" rx="5.3" ry="4.2" transform="rotate(84 37.0 78.1)"/>
<ellipse cx="1.7" cy="26.5" rx="2.7" ry="3.5" transform="rotate(126 1.7 26.5)"/>
<ellipse cx="86.3" cy="65.9" rx="5.3" ry="3.5" transform="rotate(85 86.3 65.9)"/>
<ellipse cx="78.4" cy="26.2" rx="4.6" ry="3.7" transform="rotate(156 78.4 26.2)"/>
<ellipse cx="6.6" cy="18.4" rx="5.2" ry="2.2" transform="rotate(81 6.6 18.4)"/>
<ellipse cx="56.7" cy="45.4" rx="5.0" ry="4.3" transform="rotate(61 56.7 45.4)"/>
<ellipse cx="13.4" cy="85.2" rx="3.5" ry="2.4" transform="rotate(25 13.4 85.2)"/>
<ellipse cx="1.8" cy="54.7" rx="3.0" ry="3.2" transform="rotate(166 1.8 54.7)"/>
<ellipse cx="45.8" cy="88.8" rx="2.2" ry="3.8" transform="rotate(136 45.8 88.8)"/>
<ellipse cx="89.7" cy="3.9" rx="3.7" ry="3.2" transform="rotate(108 89.7 3.9)"/>
<ellipse cx="44.6" cy="26.1" rx="5.1" ry="4.1" transform="rotate(126 44.6 26.1)"/>
<ellipse cx="89.7" cy="52.0" rx="2.3" ry="3.6" transform="rotate(19 89.7 52.0)"/>
<ellipse cx="70.5" cy="60.7" rx="2.7" ry="2.2" transform="rotate(12 70.5 60.7)"/>
<ellipse cx="17.4" cy="91.1" rx="2.8" ry="4.1" transform="rotate(24 17.4 91.1)"/>
<ellipse cx="32.3" cy="44.5" rx="3.2" ry="4.3" transform="rotate(43 32.3 44.5)"/>
<ellipse cx="45.7" cy="19.9" rx="2.4" ry="3.6" transform="rotate(61 45.7 19.9)"/>
<ellipse cx="46.1" cy="64.8" rx="2.3" ry="1.9" transform="rotate(124 46.1 64.8)"/>
<ellipse cx="92.9" cy="2.7" rx="3.5" ry="4.4" transform="rotate(150 92.9 2.7)"/>
<ellipse cx="92.5" cy="49.7" rx="5.3" ry="1.9" transform="rotate(85 92.5 49.7)"/>
<ellipse cx="79.4" cy="37.0" rx="3.5" ry="3.0" transform="rotate(68 79.4 37.0)"/>
<ellipse cx="76.2" cy="90.6" rx="2.8" ry="2.6" transform="rotate(145 76.2 90.6)"/>
<ellipse cx="69.8" cy="76.0" rx="4.3" ry="4.2" transform="rotate(152 69.8 76.0)"/>
<ellipse cx="59.6" cy="27.1" rx="2.3" ry="4.0" transform="rotate(154 59.6 27.1)"/>
<ellipse cx="83.5" cy="25.4" rx="4.5" ry="4.2" transform="rotate(37 83.5 25.4)"/>
<ellipse cx="3.2" cy="17.0" rx="2.7" ry="3.6" transform="rotate(148 3.2 17.0)"/>
<ellipse cx="76.7" cy="64.5" rx="5.3" ry="4.3" transform="rotate(79 76.7 64.5)"/>
<ellipse cx="86.2" cy="67.2" rx="2.8" ry="3.3" transform="rotate(31 86.2 67.2)"/>
<ellipse cx="38.0" cy="75.9" rx="2.0" ry="3.2" transform="rotate(78 38.0 75.9)"/>
<ellipse cx="27.2" cy="7.0" rx="3.8" ry="2.7" transform="rotate(18 27.2 7.0)"/>
<ellipse cx="38.1" cy="63.6" rx="2.3" ry="3.8" transform="rotate(15 38.1 63.6)"/>
<ellipse cx="44.5" cy="34.8" rx="4.9" ry="4.1" transform="rotate(133 44.5 34.8)"/>
<ellipse cx="28.2" cy="30.9" rx="4.8" ry="3.1" transform="rotate(114 28.2 30.9)"/>
<ellipse cx="68.0" cy="18.7" rx="3.3" ry="4.3" transform="rotate(60 68.0 18.7)"/>
<ellipse cx="79.5" cy="15.3" rx="2.0" ry="3.1" transform="rotate(51 79.5 15.3)"/>
<ellipse cx="56.1" cy="71.9" rx="2.1" ry="3.1" transform="rotate(67 56.1 71.9)"/>
<ellipse cx="84.8" cy="78.8" rx="5.0" ry="3.7" transform="rotate(62 84.8 78.8)"/>
<ellipse cx="58.3" cy="51.1" rx="3.3" ry="2.6" transform="rotate(117 58.3 51.1)"/>
<ellipse cx="83.9" cy="23.3" rx="3.2" ry="2.2" transform="rotate(66 83.9 23.3)"/>
<ellipse cx="36.9" cy="9.6" rx="4.2" ry="2.7" transform="rotate(145 36.9 9.6)"/>
</g>
<rect width="94.5" height="94.1" filter="url(#mot2)"/>
<rect width="94.5" height="94.1" fill="#030c2a" opacity="0.1"/>
<path d="M78 9l-2 3l-2 4" stroke="#2fc07a" stroke-width="0.700" fill="none" opacity="0.8" filter="url(#b05)"/>
<circle cx="78" cy="8.800" r="0.900" fill="#eafff0"/>
<rect x="70.4" y="83.80000000000001" width="23.6" height="10.4" fill="#030a1e" opacity="0.8"/>
<rect x="70.9" y="84.4" width="22.1" height="1.6" fill="#fff"/>
<text x="82.10000000000001" y="92.30000000000001" font-size="6.1" text-anchor="middle" fill="#fff">100 µm</text>
</svg>
<svg x="136.2" y="319.6" width="94.6" height="94.1" viewBox="0 0 94.6 94.1" overflow="hidden">
<rect width="94.6" height="94.1" fill="#0c3380"/>
<ellipse cx="54" cy="78" rx="16" ry="12" fill="#1858b4" opacity="0.8" filter="url(#b6)"/>
<rect width="94.6" height="94.1" filter="url(#fine)"/>
<rect width="94.6" height="94.1" filter="url(#spk)"/>
<g filter="url(#b25)" fill="#030c28" opacity="0.9">
<ellipse cx="44" cy="24" rx="8" ry="8"/>
<ellipse cx="17" cy="36" rx="7" ry="7"/>
<ellipse cx="40" cy="62" rx="8" ry="7"/>
<ellipse cx="70" cy="42" rx="8" ry="6"/>
<ellipse cx="29" cy="87" rx="8" ry="6"/>
<ellipse cx="80" cy="67" rx="7" ry="7"/>
<ellipse cx="8" cy="8" rx="8" ry="5"/>
<ellipse cx="85" cy="12" rx="8" ry="6"/>
<ellipse cx="10" cy="70" rx="6" ry="8"/>
</g>
<g filter="url(#b12)" fill="#030c28" opacity="0.92">
<ellipse cx="91.7" cy="43.0" rx="4.4" ry="3.7" transform="rotate(39 91.7 43.0)"/>
<ellipse cx="8.2" cy="56.5" rx="2.4" ry="2.8" transform="rotate(160 8.2 56.5)"/>
<ellipse cx="81.8" cy="11.9" rx="2.3" ry="2.4" transform="rotate(149 81.8 11.9)"/>
<ellipse cx="3.3" cy="21.7" rx="2.4" ry="2.1" transform="rotate(94 3.3 21.7)"/>
<ellipse cx="18.0" cy="38.7" rx="4.5" ry="3.7" transform="rotate(75 18.0 38.7)"/>
<ellipse cx="73.8" cy="53.7" rx="4.8" ry="2.4" transform="rotate(66 73.8 53.7)"/>
<ellipse cx="54.7" cy="88.1" rx="4.1" ry="3.0" transform="rotate(45 54.7 88.1)"/>
<ellipse cx="27.1" cy="20.9" rx="5.4" ry="4.1" transform="rotate(161 27.1 20.9)"/>
<ellipse cx="49.9" cy="66.2" rx="3.0" ry="3.1" transform="rotate(26 49.9 66.2)"/>
<ellipse cx="39.9" cy="24.3" rx="2.3" ry="4.2" transform="rotate(17 39.9 24.3)"/>
<ellipse cx="76.3" cy="65.4" rx="2.3" ry="3.1" transform="rotate(179 76.3 65.4)"/>
<ellipse cx="92.4" cy="52.9" rx="4.6" ry="3.6" transform="rotate(53 92.4 52.9)"/>
<ellipse cx="51.9" cy="56.0" rx="3.3" ry="3.9" transform="rotate(80 51.9 56.0)"/>
<ellipse cx="70.4" cy="7.0" rx="3.5" ry="1.9" transform="rotate(116 70.4 7.0)"/>
<ellipse cx="81.8" cy="51.1" rx="3.9" ry="3.4" transform="rotate(41 81.8 51.1)"/>
<ellipse cx="36.8" cy="54.3" rx="4.2" ry="2.8" transform="rotate(86 36.8 54.3)"/>
<ellipse cx="31.6" cy="52.1" rx="4.3" ry="2.7" transform="rotate(123 31.6 52.1)"/>
<ellipse cx="79.6" cy="50.4" rx="5.3" ry="2.6" transform="rotate(166 79.6 50.4)"/>
<ellipse cx="17.8" cy="34.5" rx="4.8" ry="1.9" transform="rotate(111 17.8 34.5)"/>
<ellipse cx="81.7" cy="87.9" rx="4.3" ry="2.7" transform="rotate(60 81.7 87.9)"/>
<ellipse cx="59.4" cy="7.1" rx="2.1" ry="4.1" transform="rotate(113 59.4 7.1)"/>
<ellipse cx="16.1" cy="40.5" rx="3.0" ry="4.1" transform="rotate(52 16.1 40.5)"/>
<ellipse cx="68.1" cy="69.5" rx="3.1" ry="2.5" transform="rotate(94 68.1 69.5)"/>
<ellipse cx="38.0" cy="55.7" rx="3.1" ry="3.9" transform="rotate(76 38.0 55.7)"/>
<ellipse cx="13.6" cy="72.3" rx="5.0" ry="3.6" transform="rotate(98 13.6 72.3)"/>
<ellipse cx="81.7" cy="87.0" rx="2.0" ry="3.1" transform="rotate(3 81.7 87.0)"/>
<ellipse cx="31.9" cy="23.3" rx="3.6" ry="3.6" transform="rotate(155 31.9 23.3)"/>
<ellipse cx="25.2" cy="2.1" rx="5.4" ry="3.8" transform="rotate(99 25.2 2.1)"/>
<ellipse cx="11.4" cy="5.8" rx="5.2" ry="3.2" transform="rotate(155 11.4 5.8)"/>
<ellipse cx="73.6" cy="70.2" rx="4.7" ry="2.5" transform="rotate(44 73.6 70.2)"/>
<ellipse cx="41.2" cy="71.7" rx="4.7" ry="3.8" transform="rotate(104 41.2 71.7)"/>
<ellipse cx="45.1" cy="18.9" rx="4.3" ry="3.5" transform="rotate(93 45.1 18.9)"/>
<ellipse cx="68.3" cy="91.2" rx="5.2" ry="2.1" transform="rotate(52 68.3 91.2)"/>
<ellipse cx="57.8" cy="64.5" rx="3.0" ry="4.2" transform="rotate(83 57.8 64.5)"/>
<ellipse cx="71.9" cy="5.8" rx="2.9" ry="1.9" transform="rotate(142 71.9 5.8)"/>
<ellipse cx="49.3" cy="88.8" rx="4.1" ry="2.6" transform="rotate(64 49.3 88.8)"/>
<ellipse cx="35.7" cy="19.2" rx="2.4" ry="3.5" transform="rotate(56 35.7 19.2)"/>
<ellipse cx="43.0" cy="66.3" rx="2.9" ry="2.9" transform="rotate(58 43.0 66.3)"/>
<ellipse cx="31.0" cy="62.4" rx="2.3" ry="2.8" transform="rotate(20 31.0 62.4)"/>
<ellipse cx="63.0" cy="28.4" rx="5.3" ry="3.1" transform="rotate(119 63.0 28.4)"/>
<ellipse cx="49.5" cy="76.5" rx="4.4" ry="3.5" transform="rotate(6 49.5 76.5)"/>
<ellipse cx="14.1" cy="70.2" rx="3.4" ry="4.3" transform="rotate(114 14.1 70.2)"/>
<ellipse cx="77.2" cy="69.6" rx="5.3" ry="3.5" transform="rotate(169 77.2 69.6)"/>
<ellipse cx="40.4" cy="25.6" rx="2.4" ry="2.5" transform="rotate(161 40.4 25.6)"/>
<ellipse cx="61.9" cy="5.0" rx="2.1" ry="3.0" transform="rotate(98 61.9 5.0)"/>
<ellipse cx="34.4" cy="2.8" rx="2.9" ry="4.1" transform="rotate(131 34.4 2.8)"/>
<ellipse cx="76.8" cy="25.8" rx="4.3" ry="2.3" transform="rotate(54 76.8 25.8)"/>
<ellipse cx="89.5" cy="20.7" rx="3.0" ry="2.4" transform="rotate(156 89.5 20.7)"/>
<ellipse cx="64.6" cy="55.4" rx="4.9" ry="3.0" transform="rotate(165 64.6 55.4)"/>
<ellipse cx="73.0" cy="28.6" rx="2.8" ry="3.2" transform="rotate(80 73.0 28.6)"/>
</g>
<rect width="94.6" height="94.1" filter="url(#mot1)"/>
<rect width="94.6" height="94.1" fill="#030c2a" opacity="0.22"/>
<rect x="69.6" y="83.80000000000001" width="23.6" height="10.4" fill="#030a1e" opacity="0.8"/>
<rect x="70.1" y="84.4" width="22.1" height="1.6" fill="#fff"/>
<text x="81.3" y="92.30000000000001" font-size="6.1" text-anchor="middle" fill="#fff">100 µm</text>
</svg>
<text x="36.6" y="315.2" font-size="7.6" text-anchor="end" fill="#555">si<tspan font-style="italic">Ctrl</tspan></text>
<text x="35.3" y="411.5" font-size="7.6" text-anchor="end" fill="#555">si<tspan font-style="italic">Vwf</tspan></text>
<text x="39.8" y="423.4" font-size="7.6" text-anchor="start" fill="#2d5f9a" stroke="#2d5f9a" stroke-width="0.13" >HOECHST</text>
<text x="85.0" y="423.4" font-size="7.4" text-anchor="start" fill="#5aa84a" stroke="#5aa84a" stroke-width="0.13" >VWF</text>
<text x="300.6" y="216.9" font-size="11.2" text-anchor="start" fill="#111" stroke="#111" stroke-width="0.13" font-weight="bold">C</text>
<defs><filter id="gblur" x="-10%" y="-10%" width="120%" height="120%"><feGaussianBlur stdDeviation="1.6 0.8"/></filter><filter id="gnoise" x="0" y="0" width="100%" height="100%" color-interpolation-filters="sRGB"><feTurbulence type="fractalNoise" baseFrequency="0.6" numOctaves="2" seed="9"/><feColorMatrix type="matrix" values="0 0 0 0 0.5  0 0 0 0 0.5  0 0 0 0 0.52  0.4 0 0 0 -0.175"/></filter><filter id="gblur2" x="-10%" y="-10%" width="120%" height="120%"><feGaussianBlur stdDeviation="2.2 3"/></filter><linearGradient id="gbg" x1="0" y1="0" x2="1" y2="0"><stop offset="0" stop-color="#c8c8ca"/><stop offset="0.5" stop-color="#cccccf"/><stop offset="1" stop-color="#d2d2d4"/></linearGradient><clipPath id="gclip"><rect x="310.8" y="250.9" width="202.8" height="126.2"/></clipPath></defs>
<rect x="310.8" y="250.9" width="202.8" height="126.2" fill="url(#gbg)"/>
<g clip-path="url(#gclip)">
<g filter="url(#gblur2)" fill="#d8d8da" opacity="0.5">
<rect x="331.4" y="254.9" width="3.2" height="86.2"/>
<rect x="355.9" y="254.9" width="3.2" height="86.2"/>
<rect x="381.9" y="254.9" width="3.2" height="86.2"/>
<rect x="406.9" y="254.9" width="3.2" height="86.2"/>
<rect x="434.4" y="254.9" width="3.2" height="86.2"/>
<rect x="459.9" y="254.9" width="3.2" height="86.2"/>
<rect x="485.9" y="254.9" width="3.2" height="86.2"/>
</g>
<rect x="310.8" y="250.9" width="202.8" height="3.2" fill="#b4b4b8" opacity="0.5"/>
<g filter="url(#gblur2)">
<linearGradient id="sm0" x1="0" y1="0" x2="0" y2="1"><stop offset="0" stop-color="#55555c" stop-opacity="0"/><stop offset="0.09" stop-color="#55555c" stop-opacity="0.07"/><stop offset="0.3" stop-color="#55555c" stop-opacity="0.06"/><stop offset="0.55" stop-color="#55555c" stop-opacity="0.03"/><stop offset="1" stop-color="#55555c" stop-opacity="0"/></linearGradient>
<rect x="313" y="251.9" width="16" height="70" fill="url(#sm0)"/>
<linearGradient id="sm1" x1="0" y1="0" x2="0" y2="1"><stop offset="0" stop-color="#55555c" stop-opacity="0"/><stop offset="0.09" stop-color="#55555c" stop-opacity="0.20"/><stop offset="0.3" stop-color="#55555c" stop-opacity="0.16"/><stop offset="0.55" stop-color="#55555c" stop-opacity="0.08"/><stop offset="1" stop-color="#55555c" stop-opacity="0"/></linearGradient>
<rect x="337" y="251.9" width="16" height="70" fill="url(#sm1)"/>
<linearGradient id="sm2" x1="0" y1="0" x2="0" y2="1"><stop offset="0" stop-color="#55555c" stop-opacity="0"/><stop offset="0.09" stop-color="#55555c" stop-opacity="0.46"/><stop offset="0.3" stop-color="#55555c" stop-opacity="0.37"/><stop offset="0.55" stop-color="#55555c" stop-opacity="0.18"/><stop offset="1" stop-color="#55555c" stop-opacity="0"/></linearGradient>
<rect x="362" y="251.9" width="17" height="70" fill="url(#sm2)"/>
<linearGradient id="sm3" x1="0" y1="0" x2="0" y2="1"><stop offset="0" stop-color="#55555c" stop-opacity="0"/><stop offset="0.09" stop-color="#55555c" stop-opacity="0.72"/><stop offset="0.3" stop-color="#55555c" stop-opacity="0.58"/><stop offset="0.55" stop-color="#55555c" stop-opacity="0.29"/><stop offset="1" stop-color="#55555c" stop-opacity="0"/></linearGradient>
<rect x="388" y="251.9" width="17" height="70" fill="url(#sm3)"/>
<linearGradient id="sm4" x1="0" y1="0" x2="0" y2="1"><stop offset="0" stop-color="#55555c" stop-opacity="0"/><stop offset="0.09" stop-color="#55555c" stop-opacity="0.10"/><stop offset="0.3" stop-color="#55555c" stop-opacity="0.08"/><stop offset="0.55" stop-color="#55555c" stop-opacity="0.04"/><stop offset="1" stop-color="#55555c" stop-opacity="0"/></linearGradient>
<rect x="412" y="251.9" width="19" height="70" fill="url(#sm4)"/>
<linearGradient id="sm5" x1="0" y1="0" x2="0" y2="1"><stop offset="0" stop-color="#55555c" stop-opacity="0"/><stop offset="0.09" stop-color="#55555c" stop-opacity="0.29"/><stop offset="0.3" stop-color="#55555c" stop-opacity="0.23"/><stop offset="0.55" stop-color="#55555c" stop-opacity="0.12"/><stop offset="1" stop-color="#55555c" stop-opacity="0"/></linearGradient>
<rect x="441" y="251.9" width="16" height="70" fill="url(#sm5)"/>
<linearGradient id="sm6" x1="0" y1="0" x2="0" y2="1"><stop offset="0" stop-color="#55555c" stop-opacity="0"/><stop offset="0.09" stop-color="#55555c" stop-opacity="0.19"/><stop offset="0.3" stop-color="#55555c" stop-opacity="0.15"/><stop offset="0.55" stop-color="#55555c" stop-opacity="0.08"/><stop offset="1" stop-color="#55555c" stop-opacity="0"/></linearGradient>
<rect x="466" y="251.9" width="17" height="70" fill="url(#sm6)"/>
<linearGradient id="sm7" x1="0" y1="0" x2="0" y2="1"><stop offset="0" stop-color="#55555c" stop-opacity="0"/><stop offset="0.09" stop-color="#55555c" stop-opacity="0.10"/><stop offset="0.3" stop-color="#55555c" stop-opacity="0.08"/><stop offset="0.55" stop-color="#55555c" stop-opacity="0.04"/><stop offset="1" stop-color="#55555c" stop-opacity="0"/></linearGradient>
<rect x="492" y="251.9" width="17" height="70" fill="url(#sm7)"/>
</g>
<g filter="url(#gblur)">
<rect x="313.5" y="262.0" width="15" height="1.0" fill="#4a4a52" opacity="0.04"/>
<rect x="313.5" y="264.6" width="15" height="1.0" fill="#4a4a52" opacity="0.04"/>
<rect x="313.5" y="267.2" width="15" height="1.0" fill="#4a4a52" opacity="0.04"/>
<rect x="313.5" y="270.0" width="15" height="1.0" fill="#4a4a52" opacity="0.04"/>
<rect x="313.5" y="273.0" width="15" height="1.0" fill="#4a4a52" opacity="0.04"/>
<rect x="313.5" y="276.1" width="15" height="1.0" fill="#4a4a52" opacity="0.04"/>
<rect x="313.5" y="278.6" width="15" height="2.0" fill="#4a4a52" opacity="0.06"/>
<rect x="313.5" y="282.8" width="15" height="2.0" fill="#4a4a52" opacity="0.07"/>
<rect x="313.5" y="287.4" width="15" height="2.0" fill="#4a4a52" opacity="0.08"/>
<rect x="313.5" y="292.4" width="15" height="2.0" fill="#4a4a52" opacity="0.09"/>
<rect x="313.5" y="298.4" width="15" height="2.0" fill="#4a4a52" opacity="0.10"/>
<rect x="313.5" y="306.0" width="15" height="2.0" fill="#4a4a52" opacity="0.10"/>
<rect x="313.5" y="316.0" width="15" height="2.0" fill="#4a4a52" opacity="0.09"/>
<rect x="313.5" y="329.5" width="15" height="2.0" fill="#4a4a52" opacity="0.08"/>
<rect x="313.5" y="348.0" width="15" height="2.0" fill="#4a4a52" opacity="0.05"/>
<rect x="313.5" y="321.0" width="15" height="2.0" fill="#4a4a52" opacity="0.06"/>
<rect x="313.5" y="337.0" width="15" height="2.0" fill="#4a4a52" opacity="0.06"/>
<rect x="313.5" y="353.0" width="15" height="2.0" fill="#4a4a52" opacity="0.07"/>
<rect x="313.5" y="363.0" width="15" height="2.0" fill="#4a4a52" opacity="0.05"/>
<rect x="337.5" y="262.0" width="15" height="1.0" fill="#4a4a52" opacity="0.05"/>
<rect x="337.5" y="264.6" width="15" height="1.0" fill="#4a4a52" opacity="0.05"/>
<rect x="337.5" y="267.2" width="15" height="1.0" fill="#4a4a52" opacity="0.05"/>
<rect x="337.5" y="270.0" width="15" height="1.0" fill="#4a4a52" opacity="0.05"/>
<rect x="337.5" y="273.0" width="15" height="1.0" fill="#4a4a52" opacity="0.05"/>
<rect x="337.5" y="276.1" width="15" height="1.0" fill="#4a4a52" opacity="0.05"/>
<rect x="337.5" y="278.6" width="15" height="2.0" fill="#4a4a52" opacity="0.09"/>
<rect x="337.5" y="282.8" width="15" height="2.0" fill="#4a4a52" opacity="0.11"/>
<rect x="337.5" y="287.4" width="15" height="2.0" fill="#4a4a52" opacity="0.12"/>
<rect x="337.5" y="292.4" width="15" height="2.0" fill="#4a4a52" opacity="0.14"/>
<rect x="337.5" y="298.4" width="15" height="2.0" fill="#4a4a52" opacity="0.14"/>
<rect x="337.5" y="306.0" width="15" height="2.0" fill="#4a4a52" opacity="0.14"/>
<rect x="337.5" y="316.0" width="15" height="2.0" fill="#4a4a52" opacity="0.14"/>
<rect x="337.5" y="329.5" width="15" height="2.0" fill="#4a4a52" opacity="0.11"/>
<rect x="337.5" y="348.0" width="15" height="2.0" fill="#4a4a52" opacity="0.08"/>
<rect x="337.5" y="352.6" width="15" height="2.0" fill="#4a4a52" opacity="0.07"/>
<rect x="337.5" y="358.5" width="15" height="2.0" fill="#4a4a52" opacity="0.07"/>
<rect x="362.5" y="262.0" width="16" height="1.0" fill="#4a4a52" opacity="0.14"/>
<rect x="362.5" y="264.6" width="16" height="1.0" fill="#4a4a52" opacity="0.14"/>
<rect x="362.5" y="267.2" width="16" height="1.0" fill="#4a4a52" opacity="0.14"/>
<rect x="362.5" y="270.0" width="16" height="1.0" fill="#4a4a52" opacity="0.14"/>
<rect x="362.5" y="273.0" width="16" height="1.0" fill="#4a4a52" opacity="0.14"/>
<rect x="362.5" y="276.1" width="16" height="1.0" fill="#4a4a52" opacity="0.14"/>
<rect x="362.5" y="278.6" width="16" height="2.0" fill="#4a4a52" opacity="0.22"/>
<rect x="362.5" y="282.8" width="16" height="2.0" fill="#4a4a52" opacity="0.28"/>
<rect x="362.5" y="287.4" width="16" height="2.0" fill="#4a4a52" opacity="0.32"/>
<rect x="362.5" y="292.4" width="16" height="2.0" fill="#4a4a52" opacity="0.36"/>
<rect x="362.5" y="298.4" width="16" height="2.0" fill="#4a4a52" opacity="0.37"/>
<rect x="362.5" y="306.0" width="16" height="2.0" fill="#4a4a52" opacity="0.37"/>
<rect x="362.5" y="316.0" width="16" height="2.0" fill="#4a4a52" opacity="0.36"/>
<rect x="362.5" y="329.5" width="16" height="2.0" fill="#4a4a52" opacity="0.30"/>
<rect x="362.5" y="348.0" width="16" height="2.0" fill="#4a4a52" opacity="0.21"/>
<rect x="388.5" y="262.0" width="16" height="1.0" fill="#4a4a52" opacity="0.25"/>
<rect x="388.5" y="264.6" width="16" height="1.0" fill="#4a4a52" opacity="0.25"/>
<rect x="388.5" y="267.2" width="16" height="1.0" fill="#4a4a52" opacity="0.25"/>
<rect x="388.5" y="270.0" width="16" height="1.0" fill="#4a4a52" opacity="0.25"/>
<rect x="388.5" y="273.0" width="16" height="1.0" fill="#4a4a52" opacity="0.25"/>
<rect x="388.5" y="276.1" width="16" height="1.0" fill="#4a4a52" opacity="0.25"/>
<rect x="388.5" y="278.6" width="16" height="2.0" fill="#4a4a52" opacity="0.41"/>
<rect x="388.5" y="282.8" width="16" height="2.0" fill="#4a4a52" opacity="0.51"/>
<rect x="388.5" y="287.4" width="16" height="2.0" fill="#4a4a52" opacity="0.58"/>
<rect x="388.5" y="292.4" width="16" height="2.0" fill="#4a4a52" opacity="0.65"/>
<rect x="388.5" y="298.4" width="16" height="2.0" fill="#4a4a52" opacity="0.68"/>
<rect x="388.5" y="306.0" width="16" height="2.0" fill="#4a4a52" opacity="0.68"/>
<rect x="388.5" y="316.0" width="16" height="2.0" fill="#4a4a52" opacity="0.65"/>
<rect x="388.5" y="329.5" width="16" height="2.0" fill="#4a4a52" opacity="0.55"/>
<rect x="388.5" y="348.0" width="16" height="2.0" fill="#4a4a52" opacity="0.38"/>
<rect x="412.5" y="262.0" width="18" height="1.0" fill="#4a4a52" opacity="0.05"/>
<rect x="412.5" y="264.6" width="18" height="1.0" fill="#4a4a52" opacity="0.05"/>
<rect x="412.5" y="267.2" width="18" height="1.0" fill="#4a4a52" opacity="0.05"/>
<rect x="412.5" y="270.0" width="18" height="1.0" fill="#4a4a52" opacity="0.05"/>
<rect x="412.5" y="273.0" width="18" height="1.0" fill="#4a4a52" opacity="0.05"/>
<rect x="412.5" y="276.1" width="18" height="1.0" fill="#4a4a52" opacity="0.05"/>
<rect x="412.5" y="278.6" width="18" height="2.0" fill="#4a4a52" opacity="0.09"/>
<rect x="412.5" y="282.8" width="18" height="2.0" fill="#4a4a52" opacity="0.11"/>
<rect x="412.5" y="287.4" width="18" height="2.0" fill="#4a4a52" opacity="0.12"/>
<rect x="412.5" y="292.4" width="18" height="2.0" fill="#4a4a52" opacity="0.14"/>
<rect x="412.5" y="298.4" width="18" height="2.0" fill="#4a4a52" opacity="0.14"/>
<rect x="412.5" y="306.0" width="18" height="2.0" fill="#4a4a52" opacity="0.14"/>
<rect x="412.5" y="316.0" width="18" height="2.0" fill="#4a4a52" opacity="0.14"/>
<rect x="412.5" y="329.5" width="18" height="2.0" fill="#4a4a52" opacity="0.11"/>
<rect x="412.5" y="348.0" width="18" height="2.0" fill="#4a4a52" opacity="0.08"/>
<rect x="412.5" y="353.0" width="18" height="2.0" fill="#4a4a52" opacity="0.06"/>
<rect x="441.5" y="262.0" width="15" height="1.0" fill="#4a4a52" opacity="0.09"/>
<rect x="441.5" y="264.6" width="15" height="1.0" fill="#4a4a52" opacity="0.09"/>
<rect x="441.5" y="267.2" width="15" height="1.0" fill="#4a4a52" opacity="0.09"/>
<rect x="441.5" y="270.0" width="15" height="1.0" fill="#4a4a52" opacity="0.09"/>
<rect x="441.5" y="273.0" width="15" height="1.0" fill="#4a4a52" opacity="0.09"/>
<rect x="441.5" y="276.1" width="15" height="1.0" fill="#4a4a52" opacity="0.09"/>
<rect x="441.5" y="278.6" width="15" height="2.0" fill="#4a4a52" opacity="0.15"/>
<rect x="441.5" y="282.8" width="15" height="2.0" fill="#4a4a52" opacity="0.18"/>
<rect x="441.5" y="287.4" width="15" height="2.0" fill="#4a4a52" opacity="0.21"/>
<rect x="441.5" y="292.4" width="15" height="2.0" fill="#4a4a52" opacity="0.23"/>
<rect x="441.5" y="298.4" width="15" height="2.0" fill="#4a4a52" opacity="0.24"/>
<rect x="441.5" y="306.0" width="15" height="2.0" fill="#4a4a52" opacity="0.24"/>
<rect x="441.5" y="316.0" width="15" height="2.0" fill="#4a4a52" opacity="0.23"/>
<rect x="441.5" y="329.5" width="15" height="2.0" fill="#4a4a52" opacity="0.19"/>
<rect x="441.5" y="348.0" width="15" height="2.0" fill="#4a4a52" opacity="0.13"/>
<rect x="441.5" y="353.0" width="15" height="2.0" fill="#4a4a52" opacity="0.07"/>
<rect x="441.5" y="371.0" width="15" height="2.0" fill="#4a4a52" opacity="0.07"/>
<rect x="466.5" y="262.0" width="16" height="1.0" fill="#4a4a52" opacity="0.07"/>
<rect x="466.5" y="264.6" width="16" height="1.0" fill="#4a4a52" opacity="0.07"/>
<rect x="466.5" y="267.2" width="16" height="1.0" fill="#4a4a52" opacity="0.07"/>
<rect x="466.5" y="270.0" width="16" height="1.0" fill="#4a4a52" opacity="0.07"/>
<rect x="466.5" y="273.0" width="16" height="1.0" fill="#4a4a52" opacity="0.07"/>
<rect x="466.5" y="276.1" width="16" height="1.0" fill="#4a4a52" opacity="0.07"/>
<rect x="466.5" y="278.6" width="16" height="2.0" fill="#4a4a52" opacity="0.11"/>
<rect x="466.5" y="282.8" width="16" height="2.0" fill="#4a4a52" opacity="0.14"/>
<rect x="466.5" y="287.4" width="16" height="2.0" fill="#4a4a52" opacity="0.16"/>
<rect x="466.5" y="292.4" width="16" height="2.0" fill="#4a4a52" opacity="0.18"/>
<rect x="466.5" y="298.4" width="16" height="2.0" fill="#4a4a52" opacity="0.19"/>
<rect x="466.5" y="306.0" width="16" height="2.0" fill="#4a4a52" opacity="0.19"/>
<rect x="466.5" y="316.0" width="16" height="2.0" fill="#4a4a52" opacity="0.18"/>
<rect x="466.5" y="329.5" width="16" height="2.0" fill="#4a4a52" opacity="0.15"/>
<rect x="466.5" y="348.0" width="16" height="2.0" fill="#4a4a52" opacity="0.10"/>
<rect x="492.5" y="262.0" width="16" height="1.0" fill="#4a4a52" opacity="0.03"/>
<rect x="492.5" y="264.6" width="16" height="1.0" fill="#4a4a52" opacity="0.03"/>
<rect x="492.5" y="267.2" width="16" height="1.0" fill="#4a4a52" opacity="0.03"/>
<rect x="492.5" y="270.0" width="16" height="1.0" fill="#4a4a52" opacity="0.03"/>
<rect x="492.5" y="273.0" width="16" height="1.0" fill="#4a4a52" opacity="0.03"/>
<rect x="492.5" y="276.1" width="16" height="1.0" fill="#4a4a52" opacity="0.03"/>
<rect x="492.5" y="278.6" width="16" height="2.0" fill="#4a4a52" opacity="0.05"/>
<rect x="492.5" y="282.8" width="16" height="2.0" fill="#4a4a52" opacity="0.06"/>
<rect x="492.5" y="287.4" width="16" height="2.0" fill="#4a4a52" opacity="0.07"/>
<rect x="492.5" y="292.4" width="16" height="2.0" fill="#4a4a52" opacity="0.07"/>
<rect x="492.5" y="298.4" width="16" height="2.0" fill="#4a4a52" opacity="0.08"/>
<rect x="492.5" y="306.0" width="16" height="2.0" fill="#4a4a52" opacity="0.08"/>
<rect x="492.5" y="316.0" width="16" height="2.0" fill="#4a4a52" opacity="0.07"/>
<rect x="492.5" y="329.5" width="16" height="2.0" fill="#4a4a52" opacity="0.06"/>
<rect x="492.5" y="348.0" width="16" height="2.0" fill="#4a4a52" opacity="0.04"/>
</g>
<rect x="310.8" y="250.9" width="202.8" height="126.2" filter="url(#gnoise)"/>
</g>
<text x="325.2" y="244.0" font-size="7.7" text-anchor="middle" fill="#222" stroke="#222" stroke-width="0.13" >NMP</text>
<text x="423.0" y="244.0" font-size="7.7" text-anchor="middle" fill="#222" stroke="#222" stroke-width="0.13" >NMP</text>
<text x="372.0" y="244.0" font-size="7.5" text-anchor="middle" fill="#2a2a2a" stroke="#2a2a2a" stroke-width="0.13" >si<tspan font-style="italic">Vwf</tspan></text>
<text x="477.0" y="244.0" font-size="7.5" text-anchor="middle" fill="#2a2a2a" stroke="#2a2a2a" stroke-width="0.13" >si<tspan font-style="italic">Ctrl</tspan></text>
<path d="M337.6 246.6L406.0 246.6" stroke="#333" stroke-width="1" fill="none"/>
<path d="M442.6 246.6L511.0 246.6" stroke="#333" stroke-width="1" fill="none"/>
<path d="M315.4 380.3L510.0 380.3" stroke="#333" stroke-width="1.2" fill="none"/>
<text x="321.0" y="389.6" font-size="7.6" text-anchor="middle" fill="#2a2a2a" stroke="#2a2a2a" stroke-width="0.13" >1.0</text>
<text x="343.6" y="389.6" font-size="7.6" text-anchor="middle" fill="#2a2a2a" stroke="#2a2a2a" stroke-width="0.13" >0.29</text>
<text x="368.6" y="389.6" font-size="7.6" text-anchor="middle" fill="#2a2a2a" stroke="#2a2a2a" stroke-width="0.13" >0.23</text>
<text x="393.0" y="389.6" font-size="7.6" text-anchor="middle" fill="#2a2a2a" stroke="#2a2a2a" stroke-width="0.13" >*0.22</text>
<text x="421.0" y="389.6" font-size="7.6" text-anchor="middle" fill="#2a2a2a" stroke="#2a2a2a" stroke-width="0.13" >1.0</text>
<text x="447.6" y="389.6" font-size="7.6" text-anchor="middle" fill="#2a2a2a" stroke="#2a2a2a" stroke-width="0.13" >0.97</text>
<text x="473.4" y="389.6" font-size="7.6" text-anchor="middle" fill="#2a2a2a" stroke="#2a2a2a" stroke-width="0.13" >0.99</text>
<text x="500.4" y="389.6" font-size="7.6" text-anchor="middle" fill="#2a2a2a" stroke="#2a2a2a" stroke-width="0.13" >1.43</text>
<text x="420.6" y="401.0" font-size="7.3" text-anchor="middle" fill="#333" stroke="#333" stroke-width="0.13" >Plasma VWF (U/mL)</text>
<text x="71.6" y="443.9" font-size="11.2" text-anchor="start" fill="#111" stroke="#111" stroke-width="0.13" font-weight="bold">D</text>
<circle cx="121.6" cy="453.6" r="1.3" fill="none" stroke="#2a6299" stroke-width="1"/>
<text x="126.0" y="456.3" font-size="7.3" text-anchor="start" fill="#2e2e2e" stroke="#2e2e2e" stroke-width="0.13" >B6</text>
<text x="189.0" y="467.8" font-size="8.8" text-anchor="middle" fill="#222" stroke="#222" stroke-width="0.13" ><tspan font-style="italic">Vwf</tspan> lung mRNA expression</text>
<text x="396.7" y="467.8" font-size="8.7" text-anchor="middle" fill="#222" stroke="#222" stroke-width="0.13" >Plasma VWF levels</text>
<text transform="translate(91.7,522.9) rotate(-90) scale(0.713,1)" font-size="9.4" text-anchor="middle" fill="#1a1a1a" stroke="#1a1a1a" stroke-width="0.34"><tspan font-style="italic">Vwf</tspan> (%) of si<tspan font-style="italic">Control</tspan></text>
<text transform="translate(299.7,524) rotate(-90) scale(0.697,1)" font-size="9.4" text-anchor="middle" fill="#1a1a1a" stroke="#1a1a1a" stroke-width="0.34">VWF (%) of si<tspan font-style="italic">Control</tspan></text>
<text transform="translate(276.2,606.3) scale(0.82,1)" font-size="8" text-anchor="middle" fill="#1a1a1a" stroke="#1a1a1a" stroke-width="0.3">siRNA treatment (1.5 mg/kg)</text>
<path d="M116 480V567.2H261.6" stroke="#333333" stroke-width="1" fill="none"/>
<path d="M112.5 492.4L116.0 492.4" stroke="#333333" stroke-width="1" fill="none"/>
<text x="110.5" y="495.1" font-size="8.0" text-anchor="end" fill="#2e2e2e" stroke="#2e2e2e" stroke-width="0.13" >150</text>
<path d="M112.5 517.4L116.0 517.4" stroke="#333333" stroke-width="1" fill="none"/>
<text x="110.5" y="520.1" font-size="8.0" text-anchor="end" fill="#2e2e2e" stroke="#2e2e2e" stroke-width="0.13" >100</text>
<path d="M112.5 542.4L116.0 542.4" stroke="#333333" stroke-width="1" fill="none"/>
<text x="110.5" y="545.1" font-size="8.0" text-anchor="end" fill="#2e2e2e" stroke="#2e2e2e" stroke-width="0.13" >50</text>
<path d="M112.5 567.2L116.0 567.2" stroke="#333333" stroke-width="1" fill="none"/>
<text x="110.5" y="569.9" font-size="8.0" text-anchor="end" fill="#2e2e2e" stroke="#2e2e2e" stroke-width="0.13" >0</text>
<path d="M131.0 567.2L131.0 569.8" stroke="#333333" stroke-width="1" fill="none"/>
<path d="M154.0 567.2L154.0 569.8" stroke="#333333" stroke-width="1" fill="none"/>
<path d="M177.0 567.2L177.0 569.8" stroke="#333333" stroke-width="1" fill="none"/>
<path d="M200.0 567.2L200.0 569.8" stroke="#333333" stroke-width="1" fill="none"/>
<path d="M223.0 567.2L223.0 569.8" stroke="#333333" stroke-width="1" fill="none"/>
<path d="M246.4 567.2L246.4 569.8" stroke="#333333" stroke-width="1" fill="none"/>
<path d="M131.0 483.5V480.5H154.0V483.5" stroke="#333333" stroke-width="1" fill="none"/>
<circle cx="141.2" cy="476.2" r="0.75" fill="#2a2a2a"/>
<circle cx="143.8" cy="476.2" r="0.75" fill="#2a2a2a"/>
<path d="M177.0 483.5V480.5H200.0V483.5" stroke="#333333" stroke-width="1" fill="none"/>
<circle cx="187.2" cy="476.2" r="0.75" fill="#2a2a2a"/>
<circle cx="189.8" cy="476.2" r="0.75" fill="#2a2a2a"/>
<path d="M223.0 483.5V480.5H246.4V483.5" stroke="#333333" stroke-width="1" fill="none"/>
<circle cx="233.4" cy="476.2" r="0.75" fill="#2a2a2a"/>
<circle cx="235.9" cy="476.2" r="0.75" fill="#2a2a2a"/>
<path d="M123.6 517.5L138.6 517.5" stroke="#24466b" stroke-width="1.1" fill="none"/>
<circle cx="128.0" cy="492.6" r="1.4" fill="none" stroke="#2a6299" stroke-width="1"/>
<circle cx="134.0" cy="494.6" r="1.4" fill="none" stroke="#2a6299" stroke-width="1"/>
<circle cx="131.0" cy="517.2" r="1.4" fill="none" stroke="#2a6299" stroke-width="1"/>
<circle cx="128.0" cy="525.6" r="1.4" fill="none" stroke="#2a6299" stroke-width="1"/>
<circle cx="134.0" cy="525.6" r="1.4" fill="none" stroke="#2a6299" stroke-width="1"/>
<path d="M146.4 560.5L161.6 560.5" stroke="#24466b" stroke-width="1.1" fill="none"/>
<circle cx="154.0" cy="551.6" r="1.4" fill="none" stroke="#2a6299" stroke-width="1"/>
<circle cx="148.0" cy="557.6" r="1.4" fill="none" stroke="#2a6299" stroke-width="1"/>
<circle cx="160.0" cy="559.6" r="1.4" fill="none" stroke="#2a6299" stroke-width="1"/>
<circle cx="154.0" cy="561.6" r="1.4" fill="none" stroke="#2a6299" stroke-width="1"/>
<circle cx="148.0" cy="563.6" r="1.4" fill="none" stroke="#2a6299" stroke-width="1"/>
<circle cx="160.0" cy="563.2" r="1.4" fill="none" stroke="#2a6299" stroke-width="1"/>
<path d="M169.0 517.5L185.0 517.5" stroke="#24466b" stroke-width="1.1" fill="none"/>
<circle cx="177.0" cy="500.4" r="1.4" fill="none" stroke="#2a6299" stroke-width="1"/>
<circle cx="177.0" cy="510.4" r="1.4" fill="none" stroke="#2a6299" stroke-width="1"/>
<circle cx="171.0" cy="517.0" r="1.4" fill="none" stroke="#2a6299" stroke-width="1"/>
<circle cx="177.0" cy="518.0" r="1.4" fill="none" stroke="#2a6299" stroke-width="1"/>
<circle cx="183.0" cy="517.4" r="1.4" fill="none" stroke="#2a6299" stroke-width="1"/>
<circle cx="177.0" cy="525.2" r="1.4" fill="none" stroke="#2a6299" stroke-width="1"/>
<path d="M192.4 557.5L207.6 557.5" stroke="#24466b" stroke-width="1.1" fill="none"/>
<circle cx="194.0" cy="557.4" r="1.4" fill="none" stroke="#2a6299" stroke-width="1"/>
<circle cx="198.0" cy="556.4" r="1.4" fill="none" stroke="#2a6299" stroke-width="1"/>
<circle cx="202.0" cy="554.0" r="1.4" fill="none" stroke="#2a6299" stroke-width="1"/>
<circle cx="206.0" cy="557.0" r="1.4" fill="none" stroke="#2a6299" stroke-width="1"/>
<circle cx="199.0" cy="560.0" r="1.4" fill="none" stroke="#2a6299" stroke-width="1"/>
<circle cx="203.0" cy="559.0" r="1.4" fill="none" stroke="#2a6299" stroke-width="1"/>
<path d="M215.6 516.5L230.6 516.5" stroke="#24466b" stroke-width="1.1" fill="none"/>
<circle cx="223.0" cy="488.0" r="1.4" fill="none" stroke="#2a6299" stroke-width="1"/>
<circle cx="217.0" cy="506.4" r="1.4" fill="none" stroke="#2a6299" stroke-width="1"/>
<circle cx="223.0" cy="508.0" r="1.4" fill="none" stroke="#2a6299" stroke-width="1"/>
<circle cx="217.0" cy="527.4" r="1.4" fill="none" stroke="#2a6299" stroke-width="1"/>
<circle cx="223.0" cy="525.4" r="1.4" fill="none" stroke="#2a6299" stroke-width="1"/>
<circle cx="229.4" cy="525.8" r="1.4" fill="none" stroke="#2a6299" stroke-width="1"/>
<path d="M239.0 554.5L254.0 554.5" stroke="#24466b" stroke-width="1.1" fill="none"/>
<circle cx="240.0" cy="554.0" r="1.4" fill="none" stroke="#2a6299" stroke-width="1"/>
<circle cx="246.0" cy="553.0" r="1.4" fill="none" stroke="#2a6299" stroke-width="1"/>
<circle cx="252.0" cy="552.0" r="1.4" fill="none" stroke="#2a6299" stroke-width="1"/>
<circle cx="252.0" cy="555.0" r="1.4" fill="none" stroke="#2a6299" stroke-width="1"/>
<circle cx="243.0" cy="559.0" r="1.4" fill="none" stroke="#2a6299" stroke-width="1"/>
<circle cx="249.0" cy="558.0" r="1.4" fill="none" stroke="#2a6299" stroke-width="1"/>
<text x="131.0" y="579.4" font-size="7.8" text-anchor="middle" fill="#555" stroke="#555" stroke-width="0.13" >si<tspan font-style="italic">Ctrl</tspan></text>
<text x="154.0" y="579.4" font-size="7.8" text-anchor="middle" fill="#555" stroke="#555" stroke-width="0.13" >si<tspan font-style="italic">Vwf</tspan></text>
<text x="177.0" y="579.4" font-size="7.8" text-anchor="middle" fill="#555" stroke="#555" stroke-width="0.13" >si<tspan font-style="italic">Ctrl</tspan></text>
<text x="200.0" y="579.4" font-size="7.8" text-anchor="middle" fill="#555" stroke="#555" stroke-width="0.13" >si<tspan font-style="italic">Vwf</tspan></text>
<text x="223.0" y="579.4" font-size="7.8" text-anchor="middle" fill="#555" stroke="#555" stroke-width="0.13" >si<tspan font-style="italic">Ctrl</tspan></text>
<text x="246.4" y="579.4" font-size="7.8" text-anchor="middle" fill="#555" stroke="#555" stroke-width="0.13" >si<tspan font-style="italic">Vwf</tspan></text>
<path d="M131.0 581.6q0 2.6 2.6 2.6H151.4q2.6 0 2.6 -2.6" stroke="#555" stroke-width="0.8" fill="none"/>
<text x="142.5" y="593.3" font-size="7.8" text-anchor="middle" fill="#333" stroke="#333" stroke-width="0.13" >72h</text>
<path d="M177.0 581.6q0 2.6 2.6 2.6H197.4q2.6 0 2.6 -2.6" stroke="#555" stroke-width="0.8" fill="none"/>
<text x="188.5" y="593.3" font-size="7.8" text-anchor="middle" fill="#333" stroke="#333" stroke-width="0.13" >96h</text>
<path d="M223.0 581.6q0 2.6 2.6 2.6H243.8q2.6 0 2.6 -2.6" stroke="#555" stroke-width="0.8" fill="none"/>
<text x="234.7" y="593.3" font-size="7.8" text-anchor="middle" fill="#333" stroke="#333" stroke-width="0.13" >10d</text>
<path d="M323.6 480V567.2H469" stroke="#333333" stroke-width="1" fill="none"/>
<path d="M320.1 492.4L323.6 492.4" stroke="#333333" stroke-width="1" fill="none"/>
<text x="318.1" y="495.1" font-size="8.0" text-anchor="end" fill="#2e2e2e" stroke="#2e2e2e" stroke-width="0.13" >150</text>
<path d="M320.1 517.4L323.6 517.4" stroke="#333333" stroke-width="1" fill="none"/>
<text x="318.1" y="520.1" font-size="8.0" text-anchor="end" fill="#2e2e2e" stroke="#2e2e2e" stroke-width="0.13" >100</text>
<path d="M320.1 542.4L323.6 542.4" stroke="#333333" stroke-width="1" fill="none"/>
<text x="318.1" y="545.1" font-size="8.0" text-anchor="end" fill="#2e2e2e" stroke="#2e2e2e" stroke-width="0.13" >50</text>
<path d="M320.1 567.2L323.6 567.2" stroke="#333333" stroke-width="1" fill="none"/>
<text x="318.1" y="569.9" font-size="8.0" text-anchor="end" fill="#2e2e2e" stroke="#2e2e2e" stroke-width="0.13" >0</text>
<path d="M338.6 567.2L338.6 569.8" stroke="#333333" stroke-width="1" fill="none"/>
<path d="M362.0 567.2L362.0 569.8" stroke="#333333" stroke-width="1" fill="none"/>
<path d="M384.6 567.2L384.6 569.8" stroke="#333333" stroke-width="1" fill="none"/>
<path d="M408.0 567.2L408.0 569.8" stroke="#333333" stroke-width="1" fill="none"/>
<path d="M431.0 567.2L431.0 569.8" stroke="#333333" stroke-width="1" fill="none"/>
<path d="M454.4 567.2L454.4 569.8" stroke="#333333" stroke-width="1" fill="none"/>
<path d="M338.6 483.5V480.5H362.0V483.5" stroke="#333333" stroke-width="1" fill="none"/>
<circle cx="349.1" cy="476.2" r="0.75" fill="#2a2a2a"/>
<circle cx="351.6" cy="476.2" r="0.75" fill="#2a2a2a"/>
<path d="M384.6 483.5V480.5H408.0V483.5" stroke="#333333" stroke-width="1" fill="none"/>
<circle cx="395.1" cy="476.2" r="0.75" fill="#2a2a2a"/>
<circle cx="397.6" cy="476.2" r="0.75" fill="#2a2a2a"/>
<path d="M431.0 483.5V480.5H454.4V483.5" stroke="#333333" stroke-width="1" fill="none"/>
<circle cx="441.4" cy="476.2" r="0.75" fill="#2a2a2a"/>
<circle cx="443.9" cy="476.2" r="0.75" fill="#2a2a2a"/>
<path d="M331.0 517.5L346.4 517.5" stroke="#24466b" stroke-width="1.1" fill="none"/>
<circle cx="338.6" cy="505.4" r="1.4" fill="none" stroke="#2a6299" stroke-width="1"/>
<circle cx="338.6" cy="512.6" r="1.4" fill="none" stroke="#2a6299" stroke-width="1"/>
<circle cx="338.6" cy="517.6" r="1.4" fill="none" stroke="#2a6299" stroke-width="1"/>
<circle cx="336.0" cy="525.4" r="1.4" fill="none" stroke="#2a6299" stroke-width="1"/>
<circle cx="342.0" cy="524.6" r="1.4" fill="none" stroke="#2a6299" stroke-width="1"/>
<path d="M354.4 554.5L369.6 554.5" stroke="#24466b" stroke-width="1.1" fill="none"/>
<circle cx="362.0" cy="545.4" r="1.4" fill="none" stroke="#2a6299" stroke-width="1"/>
<circle cx="356.0" cy="554.4" r="1.4" fill="none" stroke="#2a6299" stroke-width="1"/>
<circle cx="368.0" cy="554.4" r="1.4" fill="none" stroke="#2a6299" stroke-width="1"/>
<circle cx="356.0" cy="557.6" r="1.4" fill="none" stroke="#2a6299" stroke-width="1"/>
<circle cx="363.6" cy="557.4" r="1.4" fill="none" stroke="#2a6299" stroke-width="1"/>
<path d="M377.0 517.5L392.4 517.5" stroke="#24466b" stroke-width="1.1" fill="none"/>
<circle cx="384.6" cy="510.4" r="1.4" fill="none" stroke="#2a6299" stroke-width="1"/>
<circle cx="384.6" cy="514.0" r="1.4" fill="none" stroke="#2a6299" stroke-width="1"/>
<circle cx="378.6" cy="517.4" r="1.4" fill="none" stroke="#2a6299" stroke-width="1"/>
<circle cx="390.6" cy="517.4" r="1.4" fill="none" stroke="#2a6299" stroke-width="1"/>
<circle cx="382.0" cy="526.4" r="1.4" fill="none" stroke="#2a6299" stroke-width="1"/>
<circle cx="388.0" cy="526.0" r="1.4" fill="none" stroke="#2a6299" stroke-width="1"/>
<path d="M400.4 556.5L415.6 556.5" stroke="#24466b" stroke-width="1.1" fill="none"/>
<circle cx="402.0" cy="557.0" r="1.4" fill="none" stroke="#2a6299" stroke-width="1"/>
<circle cx="405.0" cy="557.0" r="1.4" fill="none" stroke="#2a6299" stroke-width="1"/>
<circle cx="409.0" cy="557.0" r="1.4" fill="none" stroke="#2a6299" stroke-width="1"/>
<circle cx="413.0" cy="557.0" r="1.4" fill="none" stroke="#2a6299" stroke-width="1"/>
<circle cx="408.0" cy="562.4" r="1.4" fill="none" stroke="#2a6299" stroke-width="1"/>
<path d="M423.0 517.5L438.6 517.5" stroke="#24466b" stroke-width="1.1" fill="none"/>
<circle cx="428.0" cy="511.6" r="1.4" fill="none" stroke="#2a6299" stroke-width="1"/>
<circle cx="434.0" cy="511.0" r="1.4" fill="none" stroke="#2a6299" stroke-width="1"/>
<circle cx="431.0" cy="516.0" r="1.4" fill="none" stroke="#2a6299" stroke-width="1"/>
<circle cx="428.0" cy="519.0" r="1.4" fill="none" stroke="#2a6299" stroke-width="1"/>
<circle cx="434.0" cy="520.6" r="1.4" fill="none" stroke="#2a6299" stroke-width="1"/>
<circle cx="431.0" cy="528.4" r="1.4" fill="none" stroke="#2a6299" stroke-width="1"/>
<path d="M446.0 556.5L461.6 556.5" stroke="#24466b" stroke-width="1.1" fill="none"/>
<circle cx="451.0" cy="552.6" r="1.4" fill="none" stroke="#2a6299" stroke-width="1"/>
<circle cx="457.0" cy="552.6" r="1.4" fill="none" stroke="#2a6299" stroke-width="1"/>
<circle cx="451.0" cy="556.4" r="1.4" fill="none" stroke="#2a6299" stroke-width="1"/>
<circle cx="457.0" cy="558.4" r="1.4" fill="none" stroke="#2a6299" stroke-width="1"/>
<circle cx="451.0" cy="561.4" r="1.4" fill="none" stroke="#2a6299" stroke-width="1"/>
<text x="338.6" y="579.4" font-size="7.8" text-anchor="middle" fill="#555" stroke="#555" stroke-width="0.13" >si<tspan font-style="italic">Ctrl</tspan></text>
<text x="362.0" y="579.4" font-size="7.8" text-anchor="middle" fill="#555" stroke="#555" stroke-width="0.13" >si<tspan font-style="italic">Vwf</tspan></text>
<text x="384.6" y="579.4" font-size="7.8" text-anchor="middle" fill="#555" stroke="#555" stroke-width="0.13" >si<tspan font-style="italic">Ctrl</tspan></text>
<text x="408.0" y="579.4" font-size="7.8" text-anchor="middle" fill="#555" stroke="#555" stroke-width="0.13" >si<tspan font-style="italic">Vwf</tspan></text>
<text x="431.0" y="579.4" font-size="7.8" text-anchor="middle" fill="#555" stroke="#555" stroke-width="0.13" >si<tspan font-style="italic">Ctrl</tspan></text>
<text x="454.4" y="579.4" font-size="7.8" text-anchor="middle" fill="#555" stroke="#555" stroke-width="0.13" >si<tspan font-style="italic">Vwf</tspan></text>
<path d="M338.6 581.6q0 2.6 2.6 2.6H359.4q2.6 0 2.6 -2.6" stroke="#555" stroke-width="0.8" fill="none"/>
<text x="350.3" y="593.3" font-size="7.8" text-anchor="middle" fill="#333" stroke="#333" stroke-width="0.13" >72h</text>
<path d="M384.6 581.6q0 2.6 2.6 2.6H405.4q2.6 0 2.6 -2.6" stroke="#555" stroke-width="0.8" fill="none"/>
<text x="396.3" y="593.3" font-size="7.8" text-anchor="middle" fill="#333" stroke="#333" stroke-width="0.13" >96h</text>
<path d="M431.0 581.6q0 2.6 2.6 2.6H451.8q2.6 0 2.6 -2.6" stroke="#555" stroke-width="0.8" fill="none"/>
<text x="442.7" y="593.3" font-size="7.8" text-anchor="middle" fill="#333" stroke="#333" stroke-width="0.13" >10d</text>
</g>
<rect x="0.5" y="0.5" width="519" height="614" fill="none" stroke="#4a4a4a" stroke-width="1"/>
</svg>
</body></html>
